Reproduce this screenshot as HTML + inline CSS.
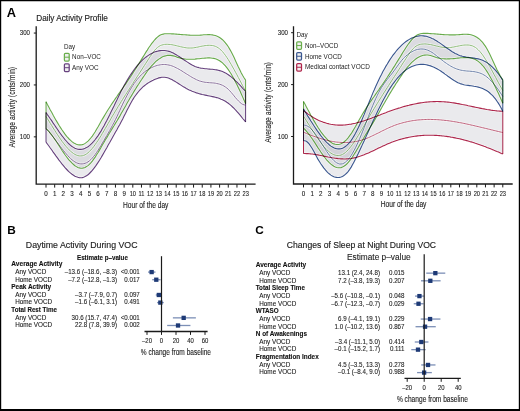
<!DOCTYPE html>
<html><head><meta charset="utf-8"><style>
html,body{margin:0;padding:0;background:#fff;width:520px;height:411px;overflow:hidden;}
svg{display:block;will-change:transform;}
text{font-family:"Liberation Sans",sans-serif;}
</style></head><body>
<svg width="520" height="411" viewBox="0 0 520 411">
<rect x="0" y="0" width="520" height="411" fill="#fff"/>
<text transform="translate(6.70,16.80) scale(1.0700,1)" x="0" y="0" font-size="12.0" font-weight="bold" fill="#000">A</text>
<text transform="translate(36.20,21.30) scale(0.8932,1)" x="0" y="0" font-size="9.2" fill="#1c1c1c" stroke="#1c1c1c" stroke-width="0.15">Daily Activity Profile</text>
<path d="M46.0,101.7 L47.4,104.5 L48.9,107.2 L50.3,110.0 L51.8,112.6 L53.2,115.3 L54.7,117.9 L56.1,120.4 L57.6,122.9 L59.0,125.3 L60.5,127.6 L61.9,129.8 L63.4,131.9 L64.8,133.9 L66.3,135.8 L67.7,137.5 L69.1,139.0 L70.6,140.4 L72.0,141.6 L73.5,142.7 L74.9,143.6 L76.4,144.2 L77.8,144.7 L79.3,144.9 L80.7,144.9 L82.2,144.6 L83.6,144.2 L85.1,143.4 L86.5,142.4 L88.0,141.1 L89.4,139.7 L90.8,138.0 L92.3,136.1 L93.7,134.0 L95.2,131.7 L96.6,129.3 L98.1,126.8 L99.5,124.2 L101.0,121.6 L102.4,119.1 L103.9,116.6 L105.3,114.2 L106.8,111.8 L108.2,109.5 L109.7,107.2 L111.1,105.0 L112.5,102.9 L114.0,100.7 L115.4,98.6 L116.9,96.5 L118.3,94.4 L119.8,92.4 L121.2,90.3 L122.7,88.2 L124.1,86.2 L125.6,84.1 L127.0,82.0 L128.5,79.8 L129.9,77.7 L131.4,75.5 L132.8,73.3 L134.2,71.0 L135.7,68.7 L137.1,66.4 L138.6,64.1 L140.0,61.8 L141.5,59.4 L142.9,57.1 L144.4,54.7 L145.8,52.4 L147.3,50.1 L148.7,47.8 L150.2,45.7 L151.6,43.7 L153.1,41.8 L154.5,40.0 L155.9,38.5 L157.4,37.1 L158.8,36.0 L160.3,35.1 L161.7,34.5 L163.2,34.1 L164.6,33.8 L166.1,33.7 L167.5,33.7 L169.0,33.7 L170.4,33.8 L171.9,33.9 L173.3,33.9 L174.8,34.0 L176.2,34.1 L177.6,34.3 L179.1,34.4 L180.5,34.5 L182.0,34.6 L183.4,34.7 L184.9,34.8 L186.3,34.9 L187.8,35.0 L189.2,35.1 L190.7,35.2 L192.1,35.2 L193.6,35.2 L195.0,35.3 L196.5,35.2 L197.9,35.2 L199.3,35.2 L200.8,35.1 L202.2,35.0 L203.7,34.8 L205.1,34.7 L206.6,34.7 L208.0,34.6 L209.5,34.6 L210.9,34.7 L212.4,34.9 L213.8,35.2 L215.3,35.5 L216.7,36.1 L218.2,36.7 L219.6,37.5 L221.0,38.5 L222.5,39.7 L223.9,41.1 L225.4,42.8 L226.8,44.6 L228.3,46.7 L229.7,49.1 L231.2,51.8 L232.6,54.6 L234.1,57.6 L235.5,60.7 L237.0,63.9 L238.4,67.0 L239.9,70.0 L241.3,72.9 L242.7,75.6 L244.2,78.0 L245.6,80.1 L245.6,103.7 L244.2,100.4 L242.7,97.1 L241.3,93.9 L239.9,90.8 L238.4,87.7 L237.0,84.7 L235.5,81.9 L234.1,79.1 L232.6,76.5 L231.2,74.0 L229.7,71.7 L228.3,69.6 L226.8,67.6 L225.4,65.8 L223.9,64.3 L222.5,62.9 L221.0,61.8 L219.6,60.8 L218.2,60.0 L216.7,59.3 L215.3,58.8 L213.8,58.4 L212.4,58.2 L210.9,58.0 L209.5,57.9 L208.0,57.9 L206.6,58.0 L205.1,58.1 L203.7,58.2 L202.2,58.3 L200.8,58.5 L199.3,58.7 L197.9,58.8 L196.5,58.9 L195.0,59.1 L193.6,59.2 L192.1,59.3 L190.7,59.3 L189.2,59.3 L187.8,59.3 L186.3,59.2 L184.9,59.0 L183.4,58.8 L182.0,58.6 L180.5,58.2 L179.1,57.8 L177.6,57.4 L176.2,56.8 L174.8,56.3 L173.3,55.9 L171.9,55.6 L170.4,55.4 L169.0,55.3 L167.5,55.4 L166.1,55.7 L164.6,56.1 L163.2,56.6 L161.7,57.3 L160.3,58.2 L158.8,59.1 L157.4,60.2 L155.9,61.4 L154.5,62.8 L153.1,64.3 L151.6,65.9 L150.2,67.6 L148.7,69.4 L147.3,71.3 L145.8,73.4 L144.4,75.5 L142.9,77.6 L141.5,79.8 L140.0,82.0 L138.6,84.2 L137.1,86.4 L135.7,88.7 L134.2,91.1 L132.8,93.5 L131.4,95.9 L129.9,98.3 L128.5,100.8 L127.0,103.3 L125.6,105.9 L124.1,108.5 L122.7,111.0 L121.2,113.6 L119.8,116.1 L118.3,118.6 L116.9,121.0 L115.4,123.4 L114.0,125.8 L112.5,128.1 L111.1,130.5 L109.7,132.8 L108.2,135.2 L106.8,137.6 L105.3,140.0 L103.9,142.5 L102.4,145.0 L101.0,147.6 L99.5,150.1 L98.1,152.5 L96.6,154.8 L95.2,157.1 L93.7,159.2 L92.3,161.1 L90.8,162.8 L89.4,164.3 L88.0,165.6 L86.5,166.6 L85.1,167.4 L83.6,167.9 L82.2,168.2 L80.7,168.2 L79.3,167.9 L77.8,167.4 L76.4,166.6 L74.9,165.7 L73.5,164.5 L72.0,163.2 L70.6,161.7 L69.1,160.1 L67.7,158.3 L66.3,156.5 L64.8,154.5 L63.4,152.4 L61.9,150.2 L60.5,148.0 L59.0,145.7 L57.6,143.5 L56.1,141.3 L54.7,139.1 L53.2,137.0 L51.8,135.1 L50.3,133.2 L48.9,131.4 L47.4,129.9 L46.0,128.5 Z" fill="rgba(185,185,195,0.30)" stroke="none"/>
<path d="M46.0,112.5 L47.4,114.6 L48.9,116.7 L50.3,118.8 L51.8,120.9 L53.2,123.1 L54.7,125.3 L56.1,127.4 L57.6,129.5 L59.0,131.6 L60.5,133.7 L61.9,135.6 L63.4,137.5 L64.8,139.3 L66.3,141.0 L67.7,142.6 L69.1,144.0 L70.6,145.3 L72.0,146.5 L73.5,147.4 L74.9,148.2 L76.4,148.8 L77.8,149.2 L79.3,149.4 L80.7,149.4 L82.2,149.3 L83.6,148.9 L85.1,148.3 L86.5,147.6 L88.0,146.7 L89.4,145.6 L90.8,144.3 L92.3,142.9 L93.7,141.3 L95.2,139.5 L96.6,137.6 L98.1,135.6 L99.5,133.4 L101.0,131.1 L102.4,128.6 L103.9,126.0 L105.3,123.3 L106.8,120.5 L108.2,117.7 L109.7,114.8 L111.1,111.8 L112.5,108.9 L114.0,105.9 L115.4,102.9 L116.9,99.9 L118.3,96.9 L119.8,94.0 L121.2,91.1 L122.7,88.3 L124.1,85.6 L125.6,83.0 L127.0,80.5 L128.5,78.1 L129.9,75.8 L131.4,73.6 L132.8,71.5 L134.2,69.5 L135.7,67.6 L137.1,65.8 L138.6,64.2 L140.0,62.6 L141.5,61.1 L142.9,59.7 L144.4,58.4 L145.8,57.2 L147.3,56.1 L148.7,55.1 L150.2,54.2 L151.6,53.4 L153.1,52.7 L154.5,52.1 L155.9,51.6 L157.4,51.2 L158.8,50.9 L160.3,50.6 L161.7,50.5 L163.2,50.5 L164.6,50.5 L166.1,50.7 L167.5,51.0 L169.0,51.4 L170.4,51.8 L171.9,52.4 L173.3,53.1 L174.8,53.9 L176.2,54.7 L177.6,55.6 L179.1,56.5 L180.5,57.5 L182.0,58.5 L183.4,59.5 L184.9,60.5 L186.3,61.4 L187.8,62.4 L189.2,63.3 L190.7,64.2 L192.1,65.0 L193.6,65.7 L195.0,66.4 L196.5,66.9 L197.9,67.4 L199.3,67.8 L200.8,68.1 L202.2,68.3 L203.7,68.5 L205.1,68.7 L206.6,68.8 L208.0,69.0 L209.5,69.1 L210.9,69.2 L212.4,69.3 L213.8,69.5 L215.3,69.7 L216.7,69.9 L218.2,70.2 L219.6,70.6 L221.0,71.0 L222.5,71.6 L223.9,72.2 L225.4,72.9 L226.8,73.8 L228.3,74.7 L229.7,75.8 L231.2,76.9 L232.6,78.1 L234.1,79.4 L235.5,80.8 L237.0,82.2 L238.4,83.7 L239.9,85.2 L241.3,86.7 L242.7,88.3 L244.2,89.9 L245.6,91.5 L245.6,122.0 L244.2,120.2 L242.7,118.5 L241.3,116.7 L239.9,114.9 L238.4,113.2 L237.0,111.6 L235.5,110.0 L234.1,108.4 L232.6,107.0 L231.2,105.6 L229.7,104.4 L228.3,103.3 L226.8,102.3 L225.4,101.3 L223.9,100.5 L222.5,99.8 L221.0,99.2 L219.6,98.6 L218.2,98.1 L216.7,97.6 L215.3,97.2 L213.8,96.9 L212.4,96.6 L210.9,96.3 L209.5,96.0 L208.0,95.7 L206.6,95.4 L205.1,95.1 L203.7,94.8 L202.2,94.5 L200.8,94.1 L199.3,93.7 L197.9,93.3 L196.5,92.9 L195.0,92.3 L193.6,91.8 L192.1,91.2 L190.7,90.6 L189.2,89.9 L187.8,89.2 L186.3,88.4 L184.9,87.6 L183.4,86.8 L182.0,85.9 L180.5,84.9 L179.1,84.0 L177.6,83.0 L176.2,82.1 L174.8,81.2 L173.3,80.4 L171.9,79.6 L170.4,78.9 L169.0,78.3 L167.5,77.8 L166.1,77.5 L164.6,77.3 L163.2,77.2 L161.7,77.3 L160.3,77.6 L158.8,77.9 L157.4,78.4 L155.9,78.9 L154.5,79.5 L153.1,80.2 L151.6,80.9 L150.2,81.7 L148.7,82.6 L147.3,83.5 L145.8,84.6 L144.4,85.7 L142.9,86.9 L141.5,88.3 L140.0,89.8 L138.6,91.5 L137.1,93.3 L135.7,95.2 L134.2,97.3 L132.8,99.6 L131.4,102.1 L129.9,104.7 L128.5,107.5 L127.0,110.3 L125.6,113.2 L124.1,116.1 L122.7,119.0 L121.2,121.7 L119.8,124.4 L118.3,127.1 L116.9,129.7 L115.4,132.2 L114.0,134.8 L112.5,137.4 L111.1,139.9 L109.7,142.5 L108.2,145.1 L106.8,147.7 L105.3,150.3 L103.9,152.8 L102.4,155.4 L101.0,157.8 L99.5,160.2 L98.1,162.4 L96.6,164.6 L95.2,166.7 L93.7,168.6 L92.3,170.4 L90.8,172.0 L89.4,173.5 L88.0,174.7 L86.5,175.8 L85.1,176.6 L83.6,177.2 L82.2,177.6 L80.7,177.7 L79.3,177.6 L77.8,177.3 L76.4,176.8 L74.9,176.2 L73.5,175.3 L72.0,174.3 L70.6,173.2 L69.1,171.9 L67.7,170.5 L66.3,169.0 L64.8,167.4 L63.4,165.7 L61.9,163.9 L60.5,162.0 L59.0,160.1 L57.6,158.1 L56.1,156.1 L54.7,154.1 L53.2,152.1 L51.8,150.0 L50.3,148.0 L48.9,146.0 L47.4,144.0 L46.0,142.1 Z" fill="rgba(185,185,195,0.30)" stroke="none"/>
<path d="M46.0,101.7 L47.4,104.5 L48.9,107.2 L50.3,110.0 L51.8,112.6 L53.2,115.3 L54.7,117.9 L56.1,120.4 L57.6,122.9 L59.0,125.3 L60.5,127.6 L61.9,129.8 L63.4,131.9 L64.8,133.9 L66.3,135.8 L67.7,137.5 L69.1,139.0 L70.6,140.4 L72.0,141.6 L73.5,142.7 L74.9,143.6 L76.4,144.2 L77.8,144.7 L79.3,144.9 L80.7,144.9 L82.2,144.6 L83.6,144.2 L85.1,143.4 L86.5,142.4 L88.0,141.1 L89.4,139.7 L90.8,138.0 L92.3,136.1 L93.7,134.0 L95.2,131.7 L96.6,129.3 L98.1,126.8 L99.5,124.2 L101.0,121.6 L102.4,119.1 L103.9,116.6 L105.3,114.2 L106.8,111.8 L108.2,109.5 L109.7,107.2 L111.1,105.0 L112.5,102.9 L114.0,100.7 L115.4,98.6 L116.9,96.5 L118.3,94.4 L119.8,92.4 L121.2,90.3 L122.7,88.2 L124.1,86.2 L125.6,84.1 L127.0,82.0 L128.5,79.8 L129.9,77.7 L131.4,75.5 L132.8,73.3 L134.2,71.0 L135.7,68.7 L137.1,66.4 L138.6,64.1 L140.0,61.8 L141.5,59.4 L142.9,57.1 L144.4,54.7 L145.8,52.4 L147.3,50.1 L148.7,47.8 L150.2,45.7 L151.6,43.7 L153.1,41.8 L154.5,40.0 L155.9,38.5 L157.4,37.1 L158.8,36.0 L160.3,35.1 L161.7,34.5 L163.2,34.1 L164.6,33.8 L166.1,33.7 L167.5,33.7 L169.0,33.7 L170.4,33.8 L171.9,33.9 L173.3,33.9 L174.8,34.0 L176.2,34.1 L177.6,34.3 L179.1,34.4 L180.5,34.5 L182.0,34.6 L183.4,34.7 L184.9,34.8 L186.3,34.9 L187.8,35.0 L189.2,35.1 L190.7,35.2 L192.1,35.2 L193.6,35.2 L195.0,35.3 L196.5,35.2 L197.9,35.2 L199.3,35.2 L200.8,35.1 L202.2,35.0 L203.7,34.8 L205.1,34.7 L206.6,34.7 L208.0,34.6 L209.5,34.6 L210.9,34.7 L212.4,34.9 L213.8,35.2 L215.3,35.5 L216.7,36.1 L218.2,36.7 L219.6,37.5 L221.0,38.5 L222.5,39.7 L223.9,41.1 L225.4,42.8 L226.8,44.6 L228.3,46.7 L229.7,49.1 L231.2,51.8 L232.6,54.6 L234.1,57.6 L235.5,60.7 L237.0,63.9 L238.4,67.0 L239.9,70.0 L241.3,72.9 L242.7,75.6 L244.2,78.0 L245.6,80.1" stroke="#fff" stroke-opacity="0.55" stroke-width="2.6" fill="none"/>
<path d="M46.0,116.4 L47.4,118.7 L48.9,121.0 L50.3,123.4 L51.8,125.7 L53.2,128.0 L54.7,130.3 L56.1,132.6 L57.6,134.8 L59.0,137.0 L60.5,139.1 L61.9,141.2 L63.4,143.1 L64.8,145.0 L66.3,146.7 L67.7,148.3 L69.1,149.9 L70.6,151.2 L72.0,152.4 L73.5,153.5 L74.9,154.4 L76.4,155.1 L77.8,155.6 L79.3,155.9 L80.7,155.9 L82.2,155.8 L83.6,155.4 L85.1,154.8 L86.5,153.9 L88.0,152.8 L89.4,151.5 L90.8,150.0 L92.3,148.4 L93.7,146.6 L95.2,144.6 L96.6,142.5 L98.1,140.4 L99.5,138.1 L101.0,135.8 L102.4,133.3 L103.9,130.9 L105.3,128.4 L106.8,125.9 L108.2,123.4 L109.7,120.9 L111.1,118.4 L112.5,115.9 L114.0,113.5 L115.4,111.1 L116.9,108.7 L118.3,106.3 L119.8,104.0 L121.2,101.6 L122.7,99.3 L124.1,97.0 L125.6,94.7 L127.0,92.5 L128.5,90.2 L129.9,88.0 L131.4,85.7 L132.8,83.5 L134.2,81.2 L135.7,79.0 L137.1,76.8 L138.6,74.5 L140.0,72.3 L141.5,70.0 L142.9,67.8 L144.4,65.5 L145.8,63.3 L147.3,61.0 L148.7,58.8 L150.2,56.6 L151.6,54.4 L153.1,52.4 L154.5,50.5 L155.9,48.9 L157.4,47.5 L158.8,46.5 L160.3,45.6 L161.7,45.1 L163.2,44.7 L164.6,44.4 L166.1,44.3 L167.5,44.3 L169.0,44.4 L170.4,44.5 L171.9,44.7 L173.3,45.0 L174.8,45.3 L176.2,45.6 L177.6,46.0 L179.1,46.3 L180.5,46.7 L182.0,47.0 L183.4,47.3 L184.9,47.6 L186.3,47.8 L187.8,48.0 L189.2,48.0 L190.7,48.0 L192.1,48.0 L193.6,47.8 L195.0,47.6 L196.5,47.3 L197.9,47.1 L199.3,46.7 L200.8,46.4 L202.2,46.1 L203.7,45.9 L205.1,45.6 L206.6,45.5 L208.0,45.3 L209.5,45.3 L210.9,45.4 L212.4,45.5 L213.8,45.8 L215.3,46.3 L216.7,46.9 L218.2,47.8 L219.6,48.8 L221.0,50.1 L222.5,51.6 L223.9,53.4 L225.4,55.3 L226.8,57.4 L228.3,59.6 L229.7,62.0 L231.2,64.4 L232.6,67.0 L234.1,69.6 L235.5,72.2 L237.0,74.9 L238.4,77.6 L239.9,80.4 L241.3,83.1 L242.7,85.8 L244.2,88.4 L245.6,91.0" stroke="#fff" stroke-opacity="0.55" stroke-width="2.6" fill="none"/>
<path d="M46.0,128.5 L47.4,129.9 L48.9,131.4 L50.3,133.2 L51.8,135.1 L53.2,137.0 L54.7,139.1 L56.1,141.3 L57.6,143.5 L59.0,145.7 L60.5,148.0 L61.9,150.2 L63.4,152.4 L64.8,154.5 L66.3,156.5 L67.7,158.3 L69.1,160.1 L70.6,161.7 L72.0,163.2 L73.5,164.5 L74.9,165.7 L76.4,166.6 L77.8,167.4 L79.3,167.9 L80.7,168.2 L82.2,168.2 L83.6,167.9 L85.1,167.4 L86.5,166.6 L88.0,165.6 L89.4,164.3 L90.8,162.8 L92.3,161.1 L93.7,159.2 L95.2,157.1 L96.6,154.8 L98.1,152.5 L99.5,150.1 L101.0,147.6 L102.4,145.0 L103.9,142.5 L105.3,140.0 L106.8,137.6 L108.2,135.2 L109.7,132.8 L111.1,130.5 L112.5,128.1 L114.0,125.8 L115.4,123.4 L116.9,121.0 L118.3,118.6 L119.8,116.1 L121.2,113.6 L122.7,111.0 L124.1,108.5 L125.6,105.9 L127.0,103.3 L128.5,100.8 L129.9,98.3 L131.4,95.9 L132.8,93.5 L134.2,91.1 L135.7,88.7 L137.1,86.4 L138.6,84.2 L140.0,82.0 L141.5,79.8 L142.9,77.6 L144.4,75.5 L145.8,73.4 L147.3,71.3 L148.7,69.4 L150.2,67.6 L151.6,65.9 L153.1,64.3 L154.5,62.8 L155.9,61.4 L157.4,60.2 L158.8,59.1 L160.3,58.2 L161.7,57.3 L163.2,56.6 L164.6,56.1 L166.1,55.7 L167.5,55.4 L169.0,55.3 L170.4,55.4 L171.9,55.6 L173.3,55.9 L174.8,56.3 L176.2,56.8 L177.6,57.4 L179.1,57.8 L180.5,58.2 L182.0,58.6 L183.4,58.8 L184.9,59.0 L186.3,59.2 L187.8,59.3 L189.2,59.3 L190.7,59.3 L192.1,59.3 L193.6,59.2 L195.0,59.1 L196.5,58.9 L197.9,58.8 L199.3,58.7 L200.8,58.5 L202.2,58.3 L203.7,58.2 L205.1,58.1 L206.6,58.0 L208.0,57.9 L209.5,57.9 L210.9,58.0 L212.4,58.2 L213.8,58.4 L215.3,58.8 L216.7,59.3 L218.2,60.0 L219.6,60.8 L221.0,61.8 L222.5,62.9 L223.9,64.3 L225.4,65.8 L226.8,67.6 L228.3,69.6 L229.7,71.7 L231.2,74.0 L232.6,76.5 L234.1,79.1 L235.5,81.9 L237.0,84.7 L238.4,87.7 L239.9,90.8 L241.3,93.9 L242.7,97.1 L244.2,100.4 L245.6,103.7" stroke="#fff" stroke-opacity="0.55" stroke-width="2.6" fill="none"/>
<path d="M46.0,112.5 L47.4,114.6 L48.9,116.7 L50.3,118.8 L51.8,120.9 L53.2,123.1 L54.7,125.3 L56.1,127.4 L57.6,129.5 L59.0,131.6 L60.5,133.7 L61.9,135.6 L63.4,137.5 L64.8,139.3 L66.3,141.0 L67.7,142.6 L69.1,144.0 L70.6,145.3 L72.0,146.5 L73.5,147.4 L74.9,148.2 L76.4,148.8 L77.8,149.2 L79.3,149.4 L80.7,149.4 L82.2,149.3 L83.6,148.9 L85.1,148.3 L86.5,147.6 L88.0,146.7 L89.4,145.6 L90.8,144.3 L92.3,142.9 L93.7,141.3 L95.2,139.5 L96.6,137.6 L98.1,135.6 L99.5,133.4 L101.0,131.1 L102.4,128.6 L103.9,126.0 L105.3,123.3 L106.8,120.5 L108.2,117.7 L109.7,114.8 L111.1,111.8 L112.5,108.9 L114.0,105.9 L115.4,102.9 L116.9,99.9 L118.3,96.9 L119.8,94.0 L121.2,91.1 L122.7,88.3 L124.1,85.6 L125.6,83.0 L127.0,80.5 L128.5,78.1 L129.9,75.8 L131.4,73.6 L132.8,71.5 L134.2,69.5 L135.7,67.6 L137.1,65.8 L138.6,64.2 L140.0,62.6 L141.5,61.1 L142.9,59.7 L144.4,58.4 L145.8,57.2 L147.3,56.1 L148.7,55.1 L150.2,54.2 L151.6,53.4 L153.1,52.7 L154.5,52.1 L155.9,51.6 L157.4,51.2 L158.8,50.9 L160.3,50.6 L161.7,50.5 L163.2,50.5 L164.6,50.5 L166.1,50.7 L167.5,51.0 L169.0,51.4 L170.4,51.8 L171.9,52.4 L173.3,53.1 L174.8,53.9 L176.2,54.7 L177.6,55.6 L179.1,56.5 L180.5,57.5 L182.0,58.5 L183.4,59.5 L184.9,60.5 L186.3,61.4 L187.8,62.4 L189.2,63.3 L190.7,64.2 L192.1,65.0 L193.6,65.7 L195.0,66.4 L196.5,66.9 L197.9,67.4 L199.3,67.8 L200.8,68.1 L202.2,68.3 L203.7,68.5 L205.1,68.7 L206.6,68.8 L208.0,69.0 L209.5,69.1 L210.9,69.2 L212.4,69.3 L213.8,69.5 L215.3,69.7 L216.7,69.9 L218.2,70.2 L219.6,70.6 L221.0,71.0 L222.5,71.6 L223.9,72.2 L225.4,72.9 L226.8,73.8 L228.3,74.7 L229.7,75.8 L231.2,76.9 L232.6,78.1 L234.1,79.4 L235.5,80.8 L237.0,82.2 L238.4,83.7 L239.9,85.2 L241.3,86.7 L242.7,88.3 L244.2,89.9 L245.6,91.5" stroke="#fff" stroke-opacity="0.55" stroke-width="2.6" fill="none"/>
<path d="M46.0,128.6 L47.4,130.1 L48.9,131.7 L50.3,133.5 L51.8,135.2 L53.2,137.1 L54.7,139.0 L56.1,140.9 L57.6,142.8 L59.0,144.7 L60.5,146.7 L61.9,148.5 L63.4,150.4 L64.8,152.2 L66.3,153.9 L67.7,155.5 L69.1,157.1 L70.6,158.5 L72.0,159.8 L73.5,160.9 L74.9,161.9 L76.4,162.7 L77.8,163.3 L79.3,163.7 L80.7,163.9 L82.2,163.9 L83.6,163.7 L85.1,163.3 L86.5,162.7 L88.0,161.9 L89.4,160.8 L90.8,159.6 L92.3,158.1 L93.7,156.4 L95.2,154.5 L96.6,152.4 L98.1,150.2 L99.5,147.9 L101.0,145.5 L102.4,143.0 L103.9,140.5 L105.3,138.0 L106.8,135.5 L108.2,133.1 L109.7,130.5 L111.1,127.9 L112.5,125.3 L114.0,122.5 L115.4,119.7 L116.9,116.7 L118.3,113.6 L119.8,110.4 L121.2,107.3 L122.7,104.1 L124.1,101.1 L125.6,98.2 L127.0,95.4 L128.5,92.7 L129.9,90.2 L131.4,87.8 L132.8,85.5 L134.2,83.4 L135.7,81.4 L137.1,79.5 L138.6,77.8 L140.0,76.2 L141.5,74.7 L142.9,73.3 L144.4,72.1 L145.8,71.0 L147.3,70.0 L148.7,69.1 L150.2,68.3 L151.6,67.6 L153.1,66.9 L154.5,66.4 L155.9,65.8 L157.4,65.4 L158.8,65.1 L160.3,64.8 L161.7,64.6 L163.2,64.5 L164.6,64.5 L166.1,64.6 L167.5,64.8 L169.0,65.1 L170.4,65.4 L171.9,65.9 L173.3,66.4 L174.8,67.1 L176.2,67.8 L177.6,68.5 L179.1,69.3 L180.5,70.2 L182.0,71.0 L183.4,72.0 L184.9,72.9 L186.3,73.8 L187.8,74.7 L189.2,75.6 L190.7,76.5 L192.1,77.4 L193.6,78.2 L195.0,78.9 L196.5,79.7 L197.9,80.3 L199.3,80.9 L200.8,81.3 L202.2,81.7 L203.7,82.0 L205.1,82.3 L206.6,82.4 L208.0,82.6 L209.5,82.7 L210.9,82.8 L212.4,82.9 L213.8,83.0 L215.3,83.2 L216.7,83.5 L218.2,83.8 L219.6,84.2 L221.0,84.7 L222.5,85.3 L223.9,86.0 L225.4,87.0 L226.8,88.0 L228.3,89.3 L229.7,90.8 L231.2,92.4 L232.6,94.1 L234.1,95.9 L235.5,97.7 L237.0,99.4 L238.4,100.9 L239.9,102.3 L241.3,103.5 L242.7,104.4 L244.2,104.9 L245.6,105.0" stroke="#fff" stroke-opacity="0.55" stroke-width="2.6" fill="none"/>
<path d="M46.0,142.1 L47.4,144.0 L48.9,146.0 L50.3,148.0 L51.8,150.0 L53.2,152.1 L54.7,154.1 L56.1,156.1 L57.6,158.1 L59.0,160.1 L60.5,162.0 L61.9,163.9 L63.4,165.7 L64.8,167.4 L66.3,169.0 L67.7,170.5 L69.1,171.9 L70.6,173.2 L72.0,174.3 L73.5,175.3 L74.9,176.2 L76.4,176.8 L77.8,177.3 L79.3,177.6 L80.7,177.7 L82.2,177.6 L83.6,177.2 L85.1,176.6 L86.5,175.8 L88.0,174.7 L89.4,173.5 L90.8,172.0 L92.3,170.4 L93.7,168.6 L95.2,166.7 L96.6,164.6 L98.1,162.4 L99.5,160.2 L101.0,157.8 L102.4,155.4 L103.9,152.8 L105.3,150.3 L106.8,147.7 L108.2,145.1 L109.7,142.5 L111.1,139.9 L112.5,137.4 L114.0,134.8 L115.4,132.2 L116.9,129.7 L118.3,127.1 L119.8,124.4 L121.2,121.7 L122.7,119.0 L124.1,116.1 L125.6,113.2 L127.0,110.3 L128.5,107.5 L129.9,104.7 L131.4,102.1 L132.8,99.6 L134.2,97.3 L135.7,95.2 L137.1,93.3 L138.6,91.5 L140.0,89.8 L141.5,88.3 L142.9,86.9 L144.4,85.7 L145.8,84.6 L147.3,83.5 L148.7,82.6 L150.2,81.7 L151.6,80.9 L153.1,80.2 L154.5,79.5 L155.9,78.9 L157.4,78.4 L158.8,77.9 L160.3,77.6 L161.7,77.3 L163.2,77.2 L164.6,77.3 L166.1,77.5 L167.5,77.8 L169.0,78.3 L170.4,78.9 L171.9,79.6 L173.3,80.4 L174.8,81.2 L176.2,82.1 L177.6,83.0 L179.1,84.0 L180.5,84.9 L182.0,85.9 L183.4,86.8 L184.9,87.6 L186.3,88.4 L187.8,89.2 L189.2,89.9 L190.7,90.6 L192.1,91.2 L193.6,91.8 L195.0,92.3 L196.5,92.9 L197.9,93.3 L199.3,93.7 L200.8,94.1 L202.2,94.5 L203.7,94.8 L205.1,95.1 L206.6,95.4 L208.0,95.7 L209.5,96.0 L210.9,96.3 L212.4,96.6 L213.8,96.9 L215.3,97.2 L216.7,97.6 L218.2,98.1 L219.6,98.6 L221.0,99.2 L222.5,99.8 L223.9,100.5 L225.4,101.3 L226.8,102.3 L228.3,103.3 L229.7,104.4 L231.2,105.6 L232.6,107.0 L234.1,108.4 L235.5,110.0 L237.0,111.6 L238.4,113.2 L239.9,114.9 L241.3,116.7 L242.7,118.5 L244.2,120.2 L245.6,122.0" stroke="#fff" stroke-opacity="0.55" stroke-width="2.6" fill="none"/>
<path d="M46.0,101.7 L46.0,128.5 M245.6,80.1 L245.6,103.7" stroke="#6aae4c" stroke-width="1" fill="none" style="mix-blend-mode:multiply"/>
<path d="M46.0,101.7 L47.4,104.5 L48.9,107.2 L50.3,110.0 L51.8,112.6 L53.2,115.3 L54.7,117.9 L56.1,120.4 L57.6,122.9 L59.0,125.3 L60.5,127.6 L61.9,129.8 L63.4,131.9 L64.8,133.9 L66.3,135.8 L67.7,137.5 L69.1,139.0 L70.6,140.4 L72.0,141.6 L73.5,142.7 L74.9,143.6 L76.4,144.2 L77.8,144.7 L79.3,144.9 L80.7,144.9 L82.2,144.6 L83.6,144.2 L85.1,143.4 L86.5,142.4 L88.0,141.1 L89.4,139.7 L90.8,138.0 L92.3,136.1 L93.7,134.0 L95.2,131.7 L96.6,129.3 L98.1,126.8 L99.5,124.2 L101.0,121.6 L102.4,119.1 L103.9,116.6 L105.3,114.2 L106.8,111.8 L108.2,109.5 L109.7,107.2 L111.1,105.0 L112.5,102.9 L114.0,100.7 L115.4,98.6 L116.9,96.5 L118.3,94.4 L119.8,92.4 L121.2,90.3 L122.7,88.2 L124.1,86.2 L125.6,84.1 L127.0,82.0 L128.5,79.8 L129.9,77.7 L131.4,75.5 L132.8,73.3 L134.2,71.0 L135.7,68.7 L137.1,66.4 L138.6,64.1 L140.0,61.8 L141.5,59.4 L142.9,57.1 L144.4,54.7 L145.8,52.4 L147.3,50.1 L148.7,47.8 L150.2,45.7 L151.6,43.7 L153.1,41.8 L154.5,40.0 L155.9,38.5 L157.4,37.1 L158.8,36.0 L160.3,35.1 L161.7,34.5 L163.2,34.1 L164.6,33.8 L166.1,33.7 L167.5,33.7 L169.0,33.7 L170.4,33.8 L171.9,33.9 L173.3,33.9 L174.8,34.0 L176.2,34.1 L177.6,34.3 L179.1,34.4 L180.5,34.5 L182.0,34.6 L183.4,34.7 L184.9,34.8 L186.3,34.9 L187.8,35.0 L189.2,35.1 L190.7,35.2 L192.1,35.2 L193.6,35.2 L195.0,35.3 L196.5,35.2 L197.9,35.2 L199.3,35.2 L200.8,35.1 L202.2,35.0 L203.7,34.8 L205.1,34.7 L206.6,34.7 L208.0,34.6 L209.5,34.6 L210.9,34.7 L212.4,34.9 L213.8,35.2 L215.3,35.5 L216.7,36.1 L218.2,36.7 L219.6,37.5 L221.0,38.5 L222.5,39.7 L223.9,41.1 L225.4,42.8 L226.8,44.6 L228.3,46.7 L229.7,49.1 L231.2,51.8 L232.6,54.6 L234.1,57.6 L235.5,60.7 L237.0,63.9 L238.4,67.0 L239.9,70.0 L241.3,72.9 L242.7,75.6 L244.2,78.0 L245.6,80.1" stroke="#6aae4c" stroke-width="1.1" fill="none" style="mix-blend-mode:multiply"/>
<path d="M46.0,128.5 L47.4,129.9 L48.9,131.4 L50.3,133.2 L51.8,135.1 L53.2,137.0 L54.7,139.1 L56.1,141.3 L57.6,143.5 L59.0,145.7 L60.5,148.0 L61.9,150.2 L63.4,152.4 L64.8,154.5 L66.3,156.5 L67.7,158.3 L69.1,160.1 L70.6,161.7 L72.0,163.2 L73.5,164.5 L74.9,165.7 L76.4,166.6 L77.8,167.4 L79.3,167.9 L80.7,168.2 L82.2,168.2 L83.6,167.9 L85.1,167.4 L86.5,166.6 L88.0,165.6 L89.4,164.3 L90.8,162.8 L92.3,161.1 L93.7,159.2 L95.2,157.1 L96.6,154.8 L98.1,152.5 L99.5,150.1 L101.0,147.6 L102.4,145.0 L103.9,142.5 L105.3,140.0 L106.8,137.6 L108.2,135.2 L109.7,132.8 L111.1,130.5 L112.5,128.1 L114.0,125.8 L115.4,123.4 L116.9,121.0 L118.3,118.6 L119.8,116.1 L121.2,113.6 L122.7,111.0 L124.1,108.5 L125.6,105.9 L127.0,103.3 L128.5,100.8 L129.9,98.3 L131.4,95.9 L132.8,93.5 L134.2,91.1 L135.7,88.7 L137.1,86.4 L138.6,84.2 L140.0,82.0 L141.5,79.8 L142.9,77.6 L144.4,75.5 L145.8,73.4 L147.3,71.3 L148.7,69.4 L150.2,67.6 L151.6,65.9 L153.1,64.3 L154.5,62.8 L155.9,61.4 L157.4,60.2 L158.8,59.1 L160.3,58.2 L161.7,57.3 L163.2,56.6 L164.6,56.1 L166.1,55.7 L167.5,55.4 L169.0,55.3 L170.4,55.4 L171.9,55.6 L173.3,55.9 L174.8,56.3 L176.2,56.8 L177.6,57.4 L179.1,57.8 L180.5,58.2 L182.0,58.6 L183.4,58.8 L184.9,59.0 L186.3,59.2 L187.8,59.3 L189.2,59.3 L190.7,59.3 L192.1,59.3 L193.6,59.2 L195.0,59.1 L196.5,58.9 L197.9,58.8 L199.3,58.7 L200.8,58.5 L202.2,58.3 L203.7,58.2 L205.1,58.1 L206.6,58.0 L208.0,57.9 L209.5,57.9 L210.9,58.0 L212.4,58.2 L213.8,58.4 L215.3,58.8 L216.7,59.3 L218.2,60.0 L219.6,60.8 L221.0,61.8 L222.5,62.9 L223.9,64.3 L225.4,65.8 L226.8,67.6 L228.3,69.6 L229.7,71.7 L231.2,74.0 L232.6,76.5 L234.1,79.1 L235.5,81.9 L237.0,84.7 L238.4,87.7 L239.9,90.8 L241.3,93.9 L242.7,97.1 L244.2,100.4 L245.6,103.7" stroke="#6aae4c" stroke-width="1.1" fill="none" style="mix-blend-mode:multiply"/>
<path d="M46.0,116.4 L47.4,118.7 L48.9,121.0 L50.3,123.4 L51.8,125.7 L53.2,128.0 L54.7,130.3 L56.1,132.6 L57.6,134.8 L59.0,137.0 L60.5,139.1 L61.9,141.2 L63.4,143.1 L64.8,145.0 L66.3,146.7 L67.7,148.3 L69.1,149.9 L70.6,151.2 L72.0,152.4 L73.5,153.5 L74.9,154.4 L76.4,155.1 L77.8,155.6 L79.3,155.9 L80.7,155.9 L82.2,155.8 L83.6,155.4 L85.1,154.8 L86.5,153.9 L88.0,152.8 L89.4,151.5 L90.8,150.0 L92.3,148.4 L93.7,146.6 L95.2,144.6 L96.6,142.5 L98.1,140.4 L99.5,138.1 L101.0,135.8 L102.4,133.3 L103.9,130.9 L105.3,128.4 L106.8,125.9 L108.2,123.4 L109.7,120.9 L111.1,118.4 L112.5,115.9 L114.0,113.5 L115.4,111.1 L116.9,108.7 L118.3,106.3 L119.8,104.0 L121.2,101.6 L122.7,99.3 L124.1,97.0 L125.6,94.7 L127.0,92.5 L128.5,90.2 L129.9,88.0 L131.4,85.7 L132.8,83.5 L134.2,81.2 L135.7,79.0 L137.1,76.8 L138.6,74.5 L140.0,72.3 L141.5,70.0 L142.9,67.8 L144.4,65.5 L145.8,63.3 L147.3,61.0 L148.7,58.8 L150.2,56.6 L151.6,54.4 L153.1,52.4 L154.5,50.5 L155.9,48.9 L157.4,47.5 L158.8,46.5 L160.3,45.6 L161.7,45.1 L163.2,44.7 L164.6,44.4 L166.1,44.3 L167.5,44.3 L169.0,44.4 L170.4,44.5 L171.9,44.7 L173.3,45.0 L174.8,45.3 L176.2,45.6 L177.6,46.0 L179.1,46.3 L180.5,46.7 L182.0,47.0 L183.4,47.3 L184.9,47.6 L186.3,47.8 L187.8,48.0 L189.2,48.0 L190.7,48.0 L192.1,48.0 L193.6,47.8 L195.0,47.6 L196.5,47.3 L197.9,47.1 L199.3,46.7 L200.8,46.4 L202.2,46.1 L203.7,45.9 L205.1,45.6 L206.6,45.5 L208.0,45.3 L209.5,45.3 L210.9,45.4 L212.4,45.5 L213.8,45.8 L215.3,46.3 L216.7,46.9 L218.2,47.8 L219.6,48.8 L221.0,50.1 L222.5,51.6 L223.9,53.4 L225.4,55.3 L226.8,57.4 L228.3,59.6 L229.7,62.0 L231.2,64.4 L232.6,67.0 L234.1,69.6 L235.5,72.2 L237.0,74.9 L238.4,77.6 L239.9,80.4 L241.3,83.1 L242.7,85.8 L244.2,88.4 L245.6,91.0" stroke="#6aae4c" stroke-width="0.95" fill="none" opacity="0.75" style="mix-blend-mode:multiply"/>
<path d="M46.0,112.5 L46.0,142.1 M245.6,91.5 L245.6,122.0" stroke="#67427f" stroke-width="1" fill="none" style="mix-blend-mode:multiply"/>
<path d="M46.0,112.5 L47.4,114.6 L48.9,116.7 L50.3,118.8 L51.8,120.9 L53.2,123.1 L54.7,125.3 L56.1,127.4 L57.6,129.5 L59.0,131.6 L60.5,133.7 L61.9,135.6 L63.4,137.5 L64.8,139.3 L66.3,141.0 L67.7,142.6 L69.1,144.0 L70.6,145.3 L72.0,146.5 L73.5,147.4 L74.9,148.2 L76.4,148.8 L77.8,149.2 L79.3,149.4 L80.7,149.4 L82.2,149.3 L83.6,148.9 L85.1,148.3 L86.5,147.6 L88.0,146.7 L89.4,145.6 L90.8,144.3 L92.3,142.9 L93.7,141.3 L95.2,139.5 L96.6,137.6 L98.1,135.6 L99.5,133.4 L101.0,131.1 L102.4,128.6 L103.9,126.0 L105.3,123.3 L106.8,120.5 L108.2,117.7 L109.7,114.8 L111.1,111.8 L112.5,108.9 L114.0,105.9 L115.4,102.9 L116.9,99.9 L118.3,96.9 L119.8,94.0 L121.2,91.1 L122.7,88.3 L124.1,85.6 L125.6,83.0 L127.0,80.5 L128.5,78.1 L129.9,75.8 L131.4,73.6 L132.8,71.5 L134.2,69.5 L135.7,67.6 L137.1,65.8 L138.6,64.2 L140.0,62.6 L141.5,61.1 L142.9,59.7 L144.4,58.4 L145.8,57.2 L147.3,56.1 L148.7,55.1 L150.2,54.2 L151.6,53.4 L153.1,52.7 L154.5,52.1 L155.9,51.6 L157.4,51.2 L158.8,50.9 L160.3,50.6 L161.7,50.5 L163.2,50.5 L164.6,50.5 L166.1,50.7 L167.5,51.0 L169.0,51.4 L170.4,51.8 L171.9,52.4 L173.3,53.1 L174.8,53.9 L176.2,54.7 L177.6,55.6 L179.1,56.5 L180.5,57.5 L182.0,58.5 L183.4,59.5 L184.9,60.5 L186.3,61.4 L187.8,62.4 L189.2,63.3 L190.7,64.2 L192.1,65.0 L193.6,65.7 L195.0,66.4 L196.5,66.9 L197.9,67.4 L199.3,67.8 L200.8,68.1 L202.2,68.3 L203.7,68.5 L205.1,68.7 L206.6,68.8 L208.0,69.0 L209.5,69.1 L210.9,69.2 L212.4,69.3 L213.8,69.5 L215.3,69.7 L216.7,69.9 L218.2,70.2 L219.6,70.6 L221.0,71.0 L222.5,71.6 L223.9,72.2 L225.4,72.9 L226.8,73.8 L228.3,74.7 L229.7,75.8 L231.2,76.9 L232.6,78.1 L234.1,79.4 L235.5,80.8 L237.0,82.2 L238.4,83.7 L239.9,85.2 L241.3,86.7 L242.7,88.3 L244.2,89.9 L245.6,91.5" stroke="#67427f" stroke-width="1.1" fill="none" style="mix-blend-mode:multiply"/>
<path d="M46.0,142.1 L47.4,144.0 L48.9,146.0 L50.3,148.0 L51.8,150.0 L53.2,152.1 L54.7,154.1 L56.1,156.1 L57.6,158.1 L59.0,160.1 L60.5,162.0 L61.9,163.9 L63.4,165.7 L64.8,167.4 L66.3,169.0 L67.7,170.5 L69.1,171.9 L70.6,173.2 L72.0,174.3 L73.5,175.3 L74.9,176.2 L76.4,176.8 L77.8,177.3 L79.3,177.6 L80.7,177.7 L82.2,177.6 L83.6,177.2 L85.1,176.6 L86.5,175.8 L88.0,174.7 L89.4,173.5 L90.8,172.0 L92.3,170.4 L93.7,168.6 L95.2,166.7 L96.6,164.6 L98.1,162.4 L99.5,160.2 L101.0,157.8 L102.4,155.4 L103.9,152.8 L105.3,150.3 L106.8,147.7 L108.2,145.1 L109.7,142.5 L111.1,139.9 L112.5,137.4 L114.0,134.8 L115.4,132.2 L116.9,129.7 L118.3,127.1 L119.8,124.4 L121.2,121.7 L122.7,119.0 L124.1,116.1 L125.6,113.2 L127.0,110.3 L128.5,107.5 L129.9,104.7 L131.4,102.1 L132.8,99.6 L134.2,97.3 L135.7,95.2 L137.1,93.3 L138.6,91.5 L140.0,89.8 L141.5,88.3 L142.9,86.9 L144.4,85.7 L145.8,84.6 L147.3,83.5 L148.7,82.6 L150.2,81.7 L151.6,80.9 L153.1,80.2 L154.5,79.5 L155.9,78.9 L157.4,78.4 L158.8,77.9 L160.3,77.6 L161.7,77.3 L163.2,77.2 L164.6,77.3 L166.1,77.5 L167.5,77.8 L169.0,78.3 L170.4,78.9 L171.9,79.6 L173.3,80.4 L174.8,81.2 L176.2,82.1 L177.6,83.0 L179.1,84.0 L180.5,84.9 L182.0,85.9 L183.4,86.8 L184.9,87.6 L186.3,88.4 L187.8,89.2 L189.2,89.9 L190.7,90.6 L192.1,91.2 L193.6,91.8 L195.0,92.3 L196.5,92.9 L197.9,93.3 L199.3,93.7 L200.8,94.1 L202.2,94.5 L203.7,94.8 L205.1,95.1 L206.6,95.4 L208.0,95.7 L209.5,96.0 L210.9,96.3 L212.4,96.6 L213.8,96.9 L215.3,97.2 L216.7,97.6 L218.2,98.1 L219.6,98.6 L221.0,99.2 L222.5,99.8 L223.9,100.5 L225.4,101.3 L226.8,102.3 L228.3,103.3 L229.7,104.4 L231.2,105.6 L232.6,107.0 L234.1,108.4 L235.5,110.0 L237.0,111.6 L238.4,113.2 L239.9,114.9 L241.3,116.7 L242.7,118.5 L244.2,120.2 L245.6,122.0" stroke="#67427f" stroke-width="1.1" fill="none" style="mix-blend-mode:multiply"/>
<path d="M46.0,128.6 L47.4,130.1 L48.9,131.7 L50.3,133.5 L51.8,135.2 L53.2,137.1 L54.7,139.0 L56.1,140.9 L57.6,142.8 L59.0,144.7 L60.5,146.7 L61.9,148.5 L63.4,150.4 L64.8,152.2 L66.3,153.9 L67.7,155.5 L69.1,157.1 L70.6,158.5 L72.0,159.8 L73.5,160.9 L74.9,161.9 L76.4,162.7 L77.8,163.3 L79.3,163.7 L80.7,163.9 L82.2,163.9 L83.6,163.7 L85.1,163.3 L86.5,162.7 L88.0,161.9 L89.4,160.8 L90.8,159.6 L92.3,158.1 L93.7,156.4 L95.2,154.5 L96.6,152.4 L98.1,150.2 L99.5,147.9 L101.0,145.5 L102.4,143.0 L103.9,140.5 L105.3,138.0 L106.8,135.5 L108.2,133.1 L109.7,130.5 L111.1,127.9 L112.5,125.3 L114.0,122.5 L115.4,119.7 L116.9,116.7 L118.3,113.6 L119.8,110.4 L121.2,107.3 L122.7,104.1 L124.1,101.1 L125.6,98.2 L127.0,95.4 L128.5,92.7 L129.9,90.2 L131.4,87.8 L132.8,85.5 L134.2,83.4 L135.7,81.4 L137.1,79.5 L138.6,77.8 L140.0,76.2 L141.5,74.7 L142.9,73.3 L144.4,72.1 L145.8,71.0 L147.3,70.0 L148.7,69.1 L150.2,68.3 L151.6,67.6 L153.1,66.9 L154.5,66.4 L155.9,65.8 L157.4,65.4 L158.8,65.1 L160.3,64.8 L161.7,64.6 L163.2,64.5 L164.6,64.5 L166.1,64.6 L167.5,64.8 L169.0,65.1 L170.4,65.4 L171.9,65.9 L173.3,66.4 L174.8,67.1 L176.2,67.8 L177.6,68.5 L179.1,69.3 L180.5,70.2 L182.0,71.0 L183.4,72.0 L184.9,72.9 L186.3,73.8 L187.8,74.7 L189.2,75.6 L190.7,76.5 L192.1,77.4 L193.6,78.2 L195.0,78.9 L196.5,79.7 L197.9,80.3 L199.3,80.9 L200.8,81.3 L202.2,81.7 L203.7,82.0 L205.1,82.3 L206.6,82.4 L208.0,82.6 L209.5,82.7 L210.9,82.8 L212.4,82.9 L213.8,83.0 L215.3,83.2 L216.7,83.5 L218.2,83.8 L219.6,84.2 L221.0,84.7 L222.5,85.3 L223.9,86.0 L225.4,87.0 L226.8,88.0 L228.3,89.3 L229.7,90.8 L231.2,92.4 L232.6,94.1 L234.1,95.9 L235.5,97.7 L237.0,99.4 L238.4,100.9 L239.9,102.3 L241.3,103.5 L242.7,104.4 L244.2,104.9 L245.6,105.0" stroke="#67427f" stroke-width="0.95" fill="none" opacity="0.75" style="mix-blend-mode:multiply"/>
<path d="M36.2,26.3 L36.2,184.2 L255.6,184.2" stroke="#1a1a1a" stroke-width="1.3" fill="none"/>
<path d="M33.800000000000004,136.85 L36.2,136.85" stroke="#1a1a1a" stroke-width="1"/>
<text transform="translate(30.00,139.25) scale(0.9300,1)" x="0" y="0" font-size="6.6" text-anchor="end" fill="#1c1c1c" stroke="#1c1c1c" stroke-width="0.1">100</text>
<path d="M33.800000000000004,84.95 L36.2,84.95" stroke="#1a1a1a" stroke-width="1"/>
<text transform="translate(30.00,87.35) scale(0.9300,1)" x="0" y="0" font-size="6.6" text-anchor="end" fill="#1c1c1c" stroke="#1c1c1c" stroke-width="0.1">200</text>
<path d="M33.800000000000004,33.05 L36.2,33.05" stroke="#1a1a1a" stroke-width="1"/>
<text transform="translate(30.00,35.45) scale(0.9300,1)" x="0" y="0" font-size="6.6" text-anchor="end" fill="#1c1c1c" stroke="#1c1c1c" stroke-width="0.1">300</text>
<path d="M46.00,184.2 L46.00,187.6" stroke="#1a1a1a" stroke-width="1"/>
<text transform="translate(46.00,195.80) scale(0.9500,1)" x="0" y="0" font-size="6.6" text-anchor="middle" fill="#1c1c1c" stroke="#1c1c1c" stroke-width="0.1">0</text>
<path d="M54.68,184.2 L54.68,187.6" stroke="#1a1a1a" stroke-width="1"/>
<text transform="translate(54.68,195.80) scale(0.9500,1)" x="0" y="0" font-size="6.6" text-anchor="middle" fill="#1c1c1c" stroke="#1c1c1c" stroke-width="0.1">1</text>
<path d="M63.36,184.2 L63.36,187.6" stroke="#1a1a1a" stroke-width="1"/>
<text transform="translate(63.36,195.80) scale(0.9500,1)" x="0" y="0" font-size="6.6" text-anchor="middle" fill="#1c1c1c" stroke="#1c1c1c" stroke-width="0.1">2</text>
<path d="M72.04,184.2 L72.04,187.6" stroke="#1a1a1a" stroke-width="1"/>
<text transform="translate(72.04,195.80) scale(0.9500,1)" x="0" y="0" font-size="6.6" text-anchor="middle" fill="#1c1c1c" stroke="#1c1c1c" stroke-width="0.1">3</text>
<path d="M80.72,184.2 L80.72,187.6" stroke="#1a1a1a" stroke-width="1"/>
<text transform="translate(80.72,195.80) scale(0.9500,1)" x="0" y="0" font-size="6.6" text-anchor="middle" fill="#1c1c1c" stroke="#1c1c1c" stroke-width="0.1">4</text>
<path d="M89.40,184.2 L89.40,187.6" stroke="#1a1a1a" stroke-width="1"/>
<text transform="translate(89.40,195.80) scale(0.9500,1)" x="0" y="0" font-size="6.6" text-anchor="middle" fill="#1c1c1c" stroke="#1c1c1c" stroke-width="0.1">5</text>
<path d="M98.08,184.2 L98.08,187.6" stroke="#1a1a1a" stroke-width="1"/>
<text transform="translate(98.08,195.80) scale(0.9500,1)" x="0" y="0" font-size="6.6" text-anchor="middle" fill="#1c1c1c" stroke="#1c1c1c" stroke-width="0.1">6</text>
<path d="M106.76,184.2 L106.76,187.6" stroke="#1a1a1a" stroke-width="1"/>
<text transform="translate(106.76,195.80) scale(0.9500,1)" x="0" y="0" font-size="6.6" text-anchor="middle" fill="#1c1c1c" stroke="#1c1c1c" stroke-width="0.1">7</text>
<path d="M115.44,184.2 L115.44,187.6" stroke="#1a1a1a" stroke-width="1"/>
<text transform="translate(115.44,195.80) scale(0.9500,1)" x="0" y="0" font-size="6.6" text-anchor="middle" fill="#1c1c1c" stroke="#1c1c1c" stroke-width="0.1">8</text>
<path d="M124.12,184.2 L124.12,187.6" stroke="#1a1a1a" stroke-width="1"/>
<text transform="translate(124.12,195.80) scale(0.9500,1)" x="0" y="0" font-size="6.6" text-anchor="middle" fill="#1c1c1c" stroke="#1c1c1c" stroke-width="0.1">9</text>
<path d="M132.80,184.2 L132.80,187.6" stroke="#1a1a1a" stroke-width="1"/>
<text transform="translate(132.80,195.80) scale(0.8600,1)" x="0" y="0" font-size="6.6" text-anchor="middle" fill="#1c1c1c" stroke="#1c1c1c" stroke-width="0.1">10</text>
<path d="M141.48,184.2 L141.48,187.6" stroke="#1a1a1a" stroke-width="1"/>
<text transform="translate(141.48,195.80) scale(0.8600,1)" x="0" y="0" font-size="6.6" text-anchor="middle" fill="#1c1c1c" stroke="#1c1c1c" stroke-width="0.1">11</text>
<path d="M150.16,184.2 L150.16,187.6" stroke="#1a1a1a" stroke-width="1"/>
<text transform="translate(150.16,195.80) scale(0.8600,1)" x="0" y="0" font-size="6.6" text-anchor="middle" fill="#1c1c1c" stroke="#1c1c1c" stroke-width="0.1">12</text>
<path d="M158.84,184.2 L158.84,187.6" stroke="#1a1a1a" stroke-width="1"/>
<text transform="translate(158.84,195.80) scale(0.8600,1)" x="0" y="0" font-size="6.6" text-anchor="middle" fill="#1c1c1c" stroke="#1c1c1c" stroke-width="0.1">13</text>
<path d="M167.52,184.2 L167.52,187.6" stroke="#1a1a1a" stroke-width="1"/>
<text transform="translate(167.52,195.80) scale(0.8600,1)" x="0" y="0" font-size="6.6" text-anchor="middle" fill="#1c1c1c" stroke="#1c1c1c" stroke-width="0.1">14</text>
<path d="M176.20,184.2 L176.20,187.6" stroke="#1a1a1a" stroke-width="1"/>
<text transform="translate(176.20,195.80) scale(0.8600,1)" x="0" y="0" font-size="6.6" text-anchor="middle" fill="#1c1c1c" stroke="#1c1c1c" stroke-width="0.1">15</text>
<path d="M184.88,184.2 L184.88,187.6" stroke="#1a1a1a" stroke-width="1"/>
<text transform="translate(184.88,195.80) scale(0.8600,1)" x="0" y="0" font-size="6.6" text-anchor="middle" fill="#1c1c1c" stroke="#1c1c1c" stroke-width="0.1">16</text>
<path d="M193.56,184.2 L193.56,187.6" stroke="#1a1a1a" stroke-width="1"/>
<text transform="translate(193.56,195.80) scale(0.8600,1)" x="0" y="0" font-size="6.6" text-anchor="middle" fill="#1c1c1c" stroke="#1c1c1c" stroke-width="0.1">17</text>
<path d="M202.24,184.2 L202.24,187.6" stroke="#1a1a1a" stroke-width="1"/>
<text transform="translate(202.24,195.80) scale(0.8600,1)" x="0" y="0" font-size="6.6" text-anchor="middle" fill="#1c1c1c" stroke="#1c1c1c" stroke-width="0.1">18</text>
<path d="M210.92,184.2 L210.92,187.6" stroke="#1a1a1a" stroke-width="1"/>
<text transform="translate(210.92,195.80) scale(0.8600,1)" x="0" y="0" font-size="6.6" text-anchor="middle" fill="#1c1c1c" stroke="#1c1c1c" stroke-width="0.1">19</text>
<path d="M219.60,184.2 L219.60,187.6" stroke="#1a1a1a" stroke-width="1"/>
<text transform="translate(219.60,195.80) scale(0.8600,1)" x="0" y="0" font-size="6.6" text-anchor="middle" fill="#1c1c1c" stroke="#1c1c1c" stroke-width="0.1">20</text>
<path d="M228.28,184.2 L228.28,187.6" stroke="#1a1a1a" stroke-width="1"/>
<text transform="translate(228.28,195.80) scale(0.8600,1)" x="0" y="0" font-size="6.6" text-anchor="middle" fill="#1c1c1c" stroke="#1c1c1c" stroke-width="0.1">21</text>
<path d="M236.96,184.2 L236.96,187.6" stroke="#1a1a1a" stroke-width="1"/>
<text transform="translate(236.96,195.80) scale(0.8600,1)" x="0" y="0" font-size="6.6" text-anchor="middle" fill="#1c1c1c" stroke="#1c1c1c" stroke-width="0.1">22</text>
<path d="M245.64,184.2 L245.64,187.6" stroke="#1a1a1a" stroke-width="1"/>
<text transform="translate(245.64,195.80) scale(0.8600,1)" x="0" y="0" font-size="6.6" text-anchor="middle" fill="#1c1c1c" stroke="#1c1c1c" stroke-width="0.1">23</text>
<text transform="translate(123.00,207.50) scale(0.8115,1)" x="0" y="0" font-size="8.2" fill="#1c1c1c" stroke="#1c1c1c" stroke-width="0.12">Hour of the day</text>
<text transform="translate(14.60,107.20) rotate(-90) scale(0.7823,1)" x="0" y="0" font-size="8.8" text-anchor="middle" fill="#1c1c1c" stroke="#1c1c1c" stroke-width="0.12">Average activity (cnts/min)</text>
<text transform="translate(64.00,49.20) scale(0.9542,1)" x="0" y="0" font-size="6.6" fill="#1c1c1c">Day</text>
<rect x="64.40" y="53.30" width="4.80" height="7.80" rx="1" fill="#f0f0f0" stroke="#6aae4c" stroke-width="1.25"/>
<path d="M64.30,57.20 L69.30,57.20" stroke="#6aae4c" stroke-width="1"/>
<rect x="64.40" y="63.80" width="4.80" height="7.80" rx="1" fill="#f0f0f0" stroke="#67427f" stroke-width="1.25"/>
<path d="M64.30,67.70 L69.30,67.70" stroke="#67427f" stroke-width="1"/>
<text transform="translate(72.10,58.70) scale(0.9158,1)" x="0" y="0" font-size="6.9" fill="#1c1c1c">Non–VOC</text>
<text transform="translate(72.10,69.60) scale(0.9214,1)" x="0" y="0" font-size="6.9" fill="#1c1c1c">Any VOC</text>
<path d="M303.5,101.4 L304.9,104.1 L306.4,106.9 L307.8,109.6 L309.3,112.3 L310.7,115.0 L312.2,117.6 L313.6,120.1 L315.1,122.6 L316.5,125.0 L317.9,127.3 L319.4,129.5 L320.8,131.6 L322.3,133.6 L323.7,135.4 L325.2,137.1 L326.6,138.7 L328.1,140.1 L329.5,141.3 L330.9,142.3 L332.4,143.2 L333.8,143.9 L335.3,144.3 L336.7,144.5 L338.2,144.5 L339.6,144.3 L341.0,143.8 L342.5,143.0 L343.9,142.0 L345.4,140.8 L346.8,139.3 L348.3,137.6 L349.7,135.7 L351.2,133.7 L352.6,131.4 L354.0,129.0 L355.5,126.5 L356.9,123.9 L358.4,121.3 L359.8,118.7 L361.3,116.2 L362.7,113.8 L364.2,111.4 L365.6,109.1 L367.0,106.9 L368.5,104.7 L369.9,102.5 L371.4,100.4 L372.8,98.3 L374.3,96.2 L375.7,94.1 L377.2,92.0 L378.6,90.0 L380.0,87.9 L381.5,85.8 L382.9,83.7 L384.4,81.6 L385.8,79.5 L387.3,77.3 L388.7,75.1 L390.1,72.9 L391.6,70.7 L393.0,68.4 L394.5,66.1 L395.9,63.8 L397.4,61.4 L398.8,59.1 L400.3,56.7 L401.7,54.4 L403.1,52.0 L404.6,49.7 L406.0,47.5 L407.5,45.3 L408.9,43.3 L410.4,41.4 L411.8,39.7 L413.3,38.1 L414.7,36.8 L416.1,35.7 L417.6,34.8 L419.0,34.2 L420.5,33.7 L421.9,33.5 L423.4,33.4 L424.8,33.3 L426.3,33.4 L427.7,33.4 L429.1,33.5 L430.6,33.6 L432.0,33.7 L433.5,33.8 L434.9,33.9 L436.4,34.0 L437.8,34.1 L439.3,34.3 L440.7,34.4 L442.1,34.5 L443.6,34.6 L445.0,34.7 L446.5,34.7 L447.9,34.8 L449.4,34.9 L450.8,34.9 L452.2,34.9 L453.7,34.9 L455.1,34.9 L456.6,34.8 L458.0,34.7 L459.5,34.6 L460.9,34.5 L462.4,34.4 L463.8,34.3 L465.2,34.3 L466.7,34.3 L468.1,34.4 L469.6,34.5 L471.0,34.8 L472.5,35.2 L473.9,35.7 L475.4,36.4 L476.8,37.2 L478.2,38.2 L479.7,39.4 L481.1,40.8 L482.6,42.4 L484.0,44.3 L485.5,46.4 L486.9,48.8 L488.4,51.4 L489.8,54.3 L491.2,57.3 L492.7,60.4 L494.1,63.5 L495.6,66.7 L497.0,69.7 L498.5,72.6 L499.9,75.3 L501.4,77.7 L502.8,79.7 L502.8,103.3 L501.4,100.0 L499.9,96.8 L498.5,93.6 L497.0,90.4 L495.6,87.4 L494.1,84.4 L492.7,81.5 L491.2,78.8 L489.8,76.2 L488.4,73.7 L486.9,71.4 L485.5,69.2 L484.0,67.2 L482.6,65.5 L481.1,63.9 L479.7,62.6 L478.2,61.4 L476.8,60.4 L475.4,59.6 L473.9,59.0 L472.5,58.5 L471.0,58.1 L469.6,57.8 L468.1,57.6 L466.7,57.6 L465.2,57.6 L463.8,57.6 L462.4,57.7 L460.9,57.8 L459.5,58.0 L458.0,58.1 L456.6,58.3 L455.1,58.5 L453.7,58.6 L452.2,58.7 L450.8,58.8 L449.4,58.9 L447.9,58.9 L446.5,59.0 L445.0,58.9 L443.6,58.8 L442.1,58.7 L440.7,58.5 L439.3,58.2 L437.8,57.9 L436.4,57.5 L434.9,57.0 L433.5,56.5 L432.0,56.0 L430.6,55.5 L429.1,55.2 L427.7,55.0 L426.3,55.0 L424.8,55.1 L423.4,55.3 L421.9,55.7 L420.5,56.3 L419.0,57.0 L417.6,57.8 L416.1,58.8 L414.7,59.9 L413.3,61.1 L411.8,62.4 L410.4,63.9 L408.9,65.5 L407.5,67.2 L406.0,69.1 L404.6,71.0 L403.1,73.0 L401.7,75.1 L400.3,77.2 L398.8,79.4 L397.4,81.6 L395.9,83.8 L394.5,86.1 L393.0,88.4 L391.6,90.7 L390.1,93.1 L388.7,95.5 L387.3,98.0 L385.8,100.5 L384.4,103.0 L382.9,105.5 L381.5,108.1 L380.0,110.7 L378.6,113.2 L377.2,115.8 L375.7,118.2 L374.3,120.7 L372.8,123.1 L371.4,125.4 L369.9,127.8 L368.5,130.1 L367.0,132.5 L365.6,134.8 L364.2,137.2 L362.7,139.7 L361.3,142.2 L359.8,144.7 L358.4,147.2 L356.9,149.7 L355.5,152.1 L354.0,154.5 L352.6,156.7 L351.2,158.8 L349.7,160.7 L348.3,162.4 L346.8,164.0 L345.4,165.2 L343.9,166.3 L342.5,167.1 L341.0,167.6 L339.6,167.8 L338.2,167.8 L336.7,167.5 L335.3,167.0 L333.8,166.3 L332.4,165.3 L330.9,164.2 L329.5,162.9 L328.1,161.4 L326.6,159.8 L325.2,158.0 L323.7,156.1 L322.3,154.1 L320.8,152.0 L319.4,149.8 L317.9,147.6 L316.5,145.4 L315.1,143.1 L313.6,140.9 L312.2,138.8 L310.7,136.7 L309.3,134.7 L307.8,132.8 L306.4,131.1 L304.9,129.5 L303.5,128.1 Z" fill="rgba(185,185,195,0.30)" stroke="none"/>
<path d="M303.5,108.9 L304.9,111.3 L306.4,113.7 L307.8,116.1 L309.3,118.4 L310.7,120.7 L312.2,123.0 L313.6,125.3 L315.1,127.5 L316.5,129.6 L317.9,131.7 L319.4,133.7 L320.8,135.6 L322.3,137.5 L323.7,139.2 L325.2,140.8 L326.6,142.3 L328.1,143.7 L329.5,145.0 L330.9,146.1 L332.4,147.0 L333.8,147.8 L335.3,148.4 L336.7,148.8 L338.2,148.9 L339.6,148.9 L341.0,148.7 L342.5,148.2 L343.9,147.5 L345.4,146.5 L346.8,145.3 L348.3,143.9 L349.7,142.3 L351.2,140.4 L352.6,138.2 L354.0,135.9 L355.5,133.3 L356.9,130.6 L358.4,127.6 L359.8,124.5 L361.3,121.2 L362.7,117.9 L364.2,114.4 L365.6,110.9 L367.0,107.3 L368.5,103.7 L369.9,100.2 L371.4,96.6 L372.8,93.1 L374.3,89.8 L375.7,86.5 L377.2,83.3 L378.6,80.2 L380.0,77.2 L381.5,74.4 L382.9,71.6 L384.4,68.9 L385.8,66.4 L387.3,64.0 L388.7,61.6 L390.1,59.4 L391.6,57.2 L393.0,55.2 L394.5,53.3 L395.9,51.5 L397.4,49.7 L398.8,48.1 L400.3,46.6 L401.7,45.2 L403.1,43.8 L404.6,42.6 L406.0,41.5 L407.5,40.5 L408.9,39.6 L410.4,38.8 L411.8,38.0 L413.3,37.4 L414.7,36.9 L416.1,36.5 L417.6,36.2 L419.0,35.9 L420.5,35.8 L421.9,35.8 L423.4,35.9 L424.8,36.1 L426.3,36.3 L427.7,36.7 L429.1,37.2 L430.6,37.7 L432.0,38.4 L433.5,39.1 L434.9,39.9 L436.4,40.8 L437.8,41.7 L439.3,42.6 L440.7,43.6 L442.1,44.6 L443.6,45.7 L445.0,46.7 L446.5,47.7 L447.9,48.8 L449.4,49.8 L450.8,50.7 L452.2,51.7 L453.7,52.5 L455.1,53.4 L456.6,54.1 L458.0,54.8 L459.5,55.4 L460.9,55.9 L462.4,56.3 L463.8,56.6 L465.2,56.9 L466.7,57.2 L468.1,57.4 L469.6,57.6 L471.0,57.8 L472.5,57.9 L473.9,58.1 L475.4,58.4 L476.8,58.6 L478.2,58.9 L479.7,59.3 L481.1,59.8 L482.6,60.3 L484.0,61.0 L485.5,61.7 L486.9,62.6 L488.4,63.6 L489.8,64.7 L491.2,66.0 L492.7,67.3 L494.1,68.8 L495.6,70.4 L497.0,72.2 L498.5,74.0 L499.9,76.0 L501.4,78.1 L502.8,80.4 L502.8,111.4 L501.4,108.5 L499.9,105.8 L498.5,103.4 L497.0,101.2 L495.6,99.2 L494.1,97.4 L492.7,95.7 L491.2,94.3 L489.8,93.0 L488.4,91.8 L486.9,90.8 L485.5,90.0 L484.0,89.2 L482.6,88.6 L481.1,88.0 L479.7,87.5 L478.2,87.1 L476.8,86.8 L475.4,86.5 L473.9,86.3 L472.5,86.0 L471.0,85.8 L469.6,85.6 L468.1,85.4 L466.7,85.2 L465.2,85.0 L463.8,84.7 L462.4,84.3 L460.9,83.9 L459.5,83.3 L458.0,82.7 L456.6,81.9 L455.1,81.1 L453.7,80.2 L452.2,79.3 L450.8,78.3 L449.4,77.2 L447.9,76.2 L446.5,75.1 L445.0,74.1 L443.6,73.0 L442.1,72.0 L440.7,71.0 L439.3,70.1 L437.8,69.3 L436.4,68.5 L434.9,67.7 L433.5,67.1 L432.0,66.4 L430.6,65.9 L429.1,65.5 L427.7,65.1 L426.3,64.8 L424.8,64.5 L423.4,64.4 L421.9,64.3 L420.5,64.4 L419.0,64.5 L417.6,64.7 L416.1,65.0 L414.7,65.4 L413.3,65.9 L411.8,66.5 L410.4,67.2 L408.9,68.0 L407.5,68.9 L406.0,69.9 L404.6,71.0 L403.1,72.2 L401.7,73.6 L400.3,75.0 L398.8,76.6 L397.4,78.2 L395.9,80.0 L394.5,81.8 L393.0,83.8 L391.6,85.9 L390.1,88.1 L388.7,90.4 L387.3,92.8 L385.8,95.4 L384.4,98.0 L382.9,100.7 L381.5,103.5 L380.0,106.4 L378.6,109.3 L377.2,112.3 L375.7,115.4 L374.3,118.5 L372.8,121.6 L371.4,124.8 L369.9,128.0 L368.5,131.2 L367.0,134.4 L365.6,137.6 L364.2,140.8 L362.7,143.9 L361.3,147.1 L359.8,150.2 L358.4,153.2 L356.9,156.2 L355.5,159.1 L354.0,162.0 L352.6,164.6 L351.2,167.1 L349.7,169.4 L348.3,171.3 L346.8,173.0 L345.4,174.4 L343.9,175.5 L342.5,176.4 L341.0,177.0 L339.6,177.4 L338.2,177.5 L336.7,177.4 L335.3,177.1 L333.8,176.7 L332.4,176.0 L330.9,175.1 L329.5,174.0 L328.1,172.8 L326.6,171.3 L325.2,169.7 L323.7,167.9 L322.3,165.9 L320.8,163.8 L319.4,161.5 L317.9,159.1 L316.5,156.5 L315.1,153.8 L313.6,151.1 L312.2,148.5 L310.7,146.2 L309.3,144.1 L307.8,142.5 L306.4,141.3 L304.9,140.7 L303.5,140.8 Z" fill="rgba(185,185,195,0.30)" stroke="none"/>
<path d="M303.5,110.5 L304.9,111.7 L306.4,112.8 L307.8,113.9 L309.3,114.9 L310.7,115.9 L312.2,116.8 L313.6,117.7 L315.1,118.5 L316.5,119.3 L317.9,120.0 L319.4,120.7 L320.8,121.3 L322.3,121.8 L323.7,122.4 L325.2,122.8 L326.6,123.3 L328.1,123.6 L329.5,124.0 L330.9,124.3 L332.4,124.5 L333.8,124.7 L335.3,124.9 L336.7,125.0 L338.2,125.1 L339.6,125.1 L341.0,125.1 L342.5,125.1 L343.9,125.0 L345.4,124.9 L346.8,124.7 L348.3,124.5 L349.7,124.3 L351.2,124.1 L352.6,123.8 L354.0,123.5 L355.5,123.2 L356.9,122.8 L358.4,122.4 L359.8,122.0 L361.3,121.6 L362.7,121.1 L364.2,120.7 L365.6,120.2 L367.0,119.7 L368.5,119.2 L369.9,118.7 L371.4,118.2 L372.8,117.6 L374.3,117.1 L375.7,116.5 L377.2,116.0 L378.6,115.4 L380.0,114.9 L381.5,114.3 L382.9,113.8 L384.4,113.2 L385.8,112.7 L387.3,112.1 L388.7,111.6 L390.1,111.0 L391.6,110.5 L393.0,110.0 L394.5,109.5 L395.9,109.0 L397.4,108.6 L398.8,108.1 L400.3,107.7 L401.7,107.2 L403.1,106.8 L404.6,106.4 L406.0,106.0 L407.5,105.6 L408.9,105.3 L410.4,104.9 L411.8,104.6 L413.3,104.3 L414.7,104.0 L416.1,103.7 L417.6,103.4 L419.0,103.1 L420.5,102.9 L421.9,102.7 L423.4,102.5 L424.8,102.3 L426.3,102.1 L427.7,102.0 L429.1,101.9 L430.6,101.8 L432.0,101.7 L433.5,101.6 L434.9,101.6 L436.4,101.5 L437.8,101.5 L439.3,101.6 L440.7,101.6 L442.1,101.7 L443.6,101.8 L445.0,101.9 L446.5,102.0 L447.9,102.1 L449.4,102.3 L450.8,102.5 L452.2,102.7 L453.7,102.9 L455.1,103.1 L456.6,103.4 L458.0,103.6 L459.5,103.9 L460.9,104.2 L462.4,104.5 L463.8,104.7 L465.2,105.0 L466.7,105.3 L468.1,105.7 L469.6,106.0 L471.0,106.3 L472.5,106.6 L473.9,106.9 L475.4,107.2 L476.8,107.5 L478.2,107.8 L479.7,108.1 L481.1,108.4 L482.6,108.7 L484.0,108.9 L485.5,109.2 L486.9,109.5 L488.4,109.7 L489.8,109.9 L491.2,110.2 L492.7,110.4 L494.1,110.5 L495.6,110.7 L497.0,110.9 L498.5,111.0 L499.9,111.1 L501.4,111.2 L502.8,111.3 L502.8,154.0 L501.4,153.4 L499.9,152.7 L498.5,152.1 L497.0,151.5 L495.6,150.9 L494.1,150.3 L492.7,149.7 L491.2,149.1 L489.8,148.5 L488.4,147.9 L486.9,147.4 L485.5,146.8 L484.0,146.3 L482.6,145.7 L481.1,145.2 L479.7,144.7 L478.2,144.2 L476.8,143.7 L475.4,143.3 L473.9,142.8 L472.5,142.3 L471.0,141.9 L469.6,141.5 L468.1,141.0 L466.7,140.6 L465.2,140.2 L463.8,139.9 L462.4,139.5 L460.9,139.1 L459.5,138.8 L458.0,138.5 L456.6,138.2 L455.1,137.9 L453.7,137.6 L452.2,137.3 L450.8,137.1 L449.4,136.8 L447.9,136.6 L446.5,136.4 L445.0,136.2 L443.6,136.0 L442.1,135.9 L440.7,135.7 L439.3,135.6 L437.8,135.5 L436.4,135.4 L434.9,135.4 L433.5,135.3 L432.0,135.3 L430.6,135.2 L429.1,135.2 L427.7,135.3 L426.3,135.3 L424.8,135.3 L423.4,135.4 L421.9,135.5 L420.5,135.6 L419.0,135.8 L417.6,135.9 L416.1,136.1 L414.7,136.3 L413.3,136.5 L411.8,136.7 L410.4,137.0 L408.9,137.3 L407.5,137.6 L406.0,137.9 L404.6,138.2 L403.1,138.6 L401.7,139.0 L400.3,139.4 L398.8,139.8 L397.4,140.3 L395.9,140.7 L394.5,141.2 L393.0,141.8 L391.6,142.3 L390.1,142.9 L388.7,143.5 L387.3,144.1 L385.8,144.8 L384.4,145.4 L382.9,146.1 L381.5,146.8 L380.0,147.4 L378.6,148.1 L377.2,148.8 L375.7,149.5 L374.3,150.2 L372.8,150.9 L371.4,151.6 L369.9,152.2 L368.5,152.9 L367.0,153.5 L365.6,154.1 L364.2,154.7 L362.7,155.2 L361.3,155.8 L359.8,156.3 L358.4,156.7 L356.9,157.2 L355.5,157.6 L354.0,157.9 L352.6,158.2 L351.2,158.5 L349.7,158.7 L348.3,158.8 L346.8,158.9 L345.4,159.0 L343.9,159.0 L342.5,158.9 L341.0,158.9 L339.6,158.7 L338.2,158.6 L336.7,158.4 L335.3,158.2 L333.8,158.0 L332.4,157.8 L330.9,157.5 L329.5,157.2 L328.1,157.0 L326.6,156.7 L325.2,156.4 L323.7,156.1 L322.3,155.8 L320.8,155.5 L319.4,155.2 L317.9,154.9 L316.5,154.7 L315.1,154.4 L313.6,154.2 L312.2,154.0 L310.7,153.9 L309.3,153.7 L307.8,153.6 L306.4,153.6 L304.9,153.5 L303.5,153.5 Z" fill="rgba(185,185,195,0.30)" stroke="none"/>
<path d="M303.5,101.4 L304.9,104.1 L306.4,106.9 L307.8,109.6 L309.3,112.3 L310.7,115.0 L312.2,117.6 L313.6,120.1 L315.1,122.6 L316.5,125.0 L317.9,127.3 L319.4,129.5 L320.8,131.6 L322.3,133.6 L323.7,135.4 L325.2,137.1 L326.6,138.7 L328.1,140.1 L329.5,141.3 L330.9,142.3 L332.4,143.2 L333.8,143.9 L335.3,144.3 L336.7,144.5 L338.2,144.5 L339.6,144.3 L341.0,143.8 L342.5,143.0 L343.9,142.0 L345.4,140.8 L346.8,139.3 L348.3,137.6 L349.7,135.7 L351.2,133.7 L352.6,131.4 L354.0,129.0 L355.5,126.5 L356.9,123.9 L358.4,121.3 L359.8,118.7 L361.3,116.2 L362.7,113.8 L364.2,111.4 L365.6,109.1 L367.0,106.9 L368.5,104.7 L369.9,102.5 L371.4,100.4 L372.8,98.3 L374.3,96.2 L375.7,94.1 L377.2,92.0 L378.6,90.0 L380.0,87.9 L381.5,85.8 L382.9,83.7 L384.4,81.6 L385.8,79.5 L387.3,77.3 L388.7,75.1 L390.1,72.9 L391.6,70.7 L393.0,68.4 L394.5,66.1 L395.9,63.8 L397.4,61.4 L398.8,59.1 L400.3,56.7 L401.7,54.4 L403.1,52.0 L404.6,49.7 L406.0,47.5 L407.5,45.3 L408.9,43.3 L410.4,41.4 L411.8,39.7 L413.3,38.1 L414.7,36.8 L416.1,35.7 L417.6,34.8 L419.0,34.2 L420.5,33.7 L421.9,33.5 L423.4,33.4 L424.8,33.3 L426.3,33.4 L427.7,33.4 L429.1,33.5 L430.6,33.6 L432.0,33.7 L433.5,33.8 L434.9,33.9 L436.4,34.0 L437.8,34.1 L439.3,34.3 L440.7,34.4 L442.1,34.5 L443.6,34.6 L445.0,34.7 L446.5,34.7 L447.9,34.8 L449.4,34.9 L450.8,34.9 L452.2,34.9 L453.7,34.9 L455.1,34.9 L456.6,34.8 L458.0,34.7 L459.5,34.6 L460.9,34.5 L462.4,34.4 L463.8,34.3 L465.2,34.3 L466.7,34.3 L468.1,34.4 L469.6,34.5 L471.0,34.8 L472.5,35.2 L473.9,35.7 L475.4,36.4 L476.8,37.2 L478.2,38.2 L479.7,39.4 L481.1,40.8 L482.6,42.4 L484.0,44.3 L485.5,46.4 L486.9,48.8 L488.4,51.4 L489.8,54.3 L491.2,57.3 L492.7,60.4 L494.1,63.5 L495.6,66.7 L497.0,69.7 L498.5,72.6 L499.9,75.3 L501.4,77.7 L502.8,79.7" stroke="#fff" stroke-opacity="0.55" stroke-width="2.6" fill="none"/>
<path d="M303.5,116.1 L304.9,118.4 L306.4,120.7 L307.8,123.0 L309.3,125.3 L310.7,127.7 L312.2,130.0 L313.6,132.2 L315.1,134.5 L316.5,136.6 L317.9,138.8 L319.4,140.8 L320.8,142.8 L322.3,144.6 L323.7,146.4 L325.2,148.0 L326.6,149.5 L328.1,150.9 L329.5,152.1 L330.9,153.1 L332.4,154.0 L333.8,154.7 L335.3,155.2 L336.7,155.5 L338.2,155.6 L339.6,155.4 L341.0,155.1 L342.5,154.4 L343.9,153.6 L345.4,152.5 L346.8,151.2 L348.3,149.7 L349.7,148.0 L351.2,146.2 L352.6,144.3 L354.0,142.2 L355.5,140.0 L356.9,137.7 L358.4,135.4 L359.8,133.0 L361.3,130.5 L362.7,128.1 L364.2,125.5 L365.6,123.0 L367.0,120.5 L368.5,118.0 L369.9,115.6 L371.4,113.1 L372.8,110.7 L374.3,108.3 L375.7,106.0 L377.2,103.6 L378.6,101.3 L380.0,99.0 L381.5,96.7 L382.9,94.4 L384.4,92.1 L385.8,89.9 L387.3,87.6 L388.7,85.4 L390.1,83.1 L391.6,80.9 L393.0,78.6 L394.5,76.4 L395.9,74.2 L397.4,71.9 L398.8,69.7 L400.3,67.4 L401.7,65.2 L403.1,62.9 L404.6,60.7 L406.0,58.4 L407.5,56.2 L408.9,54.1 L410.4,52.0 L411.8,50.2 L413.3,48.5 L414.7,47.2 L416.1,46.1 L417.6,45.3 L419.0,44.7 L420.5,44.3 L421.9,44.1 L423.4,44.0 L424.8,43.9 L426.3,44.0 L427.7,44.2 L429.1,44.4 L430.6,44.6 L432.0,44.9 L433.5,45.3 L434.9,45.6 L436.4,46.0 L437.8,46.3 L439.3,46.7 L440.7,47.0 L442.1,47.2 L443.6,47.5 L445.0,47.6 L446.5,47.7 L447.9,47.7 L449.4,47.6 L450.8,47.5 L452.2,47.2 L453.7,47.0 L455.1,46.7 L456.6,46.4 L458.0,46.1 L459.5,45.8 L460.9,45.5 L462.4,45.3 L463.8,45.1 L465.2,45.0 L466.7,45.0 L468.1,45.0 L469.6,45.2 L471.0,45.5 L472.5,45.9 L473.9,46.6 L475.4,47.4 L476.8,48.5 L478.2,49.8 L479.7,51.3 L481.1,53.0 L482.6,54.9 L484.0,57.0 L485.5,59.3 L486.9,61.6 L488.4,64.1 L489.8,66.6 L491.2,69.2 L492.7,71.9 L494.1,74.6 L495.6,77.3 L497.0,80.0 L498.5,82.8 L499.9,85.4 L501.4,88.1 L502.8,90.6" stroke="#fff" stroke-opacity="0.55" stroke-width="2.6" fill="none"/>
<path d="M303.5,128.1 L304.9,129.5 L306.4,131.1 L307.8,132.8 L309.3,134.7 L310.7,136.7 L312.2,138.8 L313.6,140.9 L315.1,143.1 L316.5,145.4 L317.9,147.6 L319.4,149.8 L320.8,152.0 L322.3,154.1 L323.7,156.1 L325.2,158.0 L326.6,159.8 L328.1,161.4 L329.5,162.9 L330.9,164.2 L332.4,165.3 L333.8,166.3 L335.3,167.0 L336.7,167.5 L338.2,167.8 L339.6,167.8 L341.0,167.6 L342.5,167.1 L343.9,166.3 L345.4,165.2 L346.8,164.0 L348.3,162.4 L349.7,160.7 L351.2,158.8 L352.6,156.7 L354.0,154.5 L355.5,152.1 L356.9,149.7 L358.4,147.2 L359.8,144.7 L361.3,142.2 L362.7,139.7 L364.2,137.2 L365.6,134.8 L367.0,132.5 L368.5,130.1 L369.9,127.8 L371.4,125.4 L372.8,123.1 L374.3,120.7 L375.7,118.2 L377.2,115.8 L378.6,113.2 L380.0,110.7 L381.5,108.1 L382.9,105.5 L384.4,103.0 L385.8,100.5 L387.3,98.0 L388.7,95.5 L390.1,93.1 L391.6,90.7 L393.0,88.4 L394.5,86.1 L395.9,83.8 L397.4,81.6 L398.8,79.4 L400.3,77.2 L401.7,75.1 L403.1,73.0 L404.6,71.0 L406.0,69.1 L407.5,67.2 L408.9,65.5 L410.4,63.9 L411.8,62.4 L413.3,61.1 L414.7,59.9 L416.1,58.8 L417.6,57.8 L419.0,57.0 L420.5,56.3 L421.9,55.7 L423.4,55.3 L424.8,55.1 L426.3,55.0 L427.7,55.0 L429.1,55.2 L430.6,55.5 L432.0,56.0 L433.5,56.5 L434.9,57.0 L436.4,57.5 L437.8,57.9 L439.3,58.2 L440.7,58.5 L442.1,58.7 L443.6,58.8 L445.0,58.9 L446.5,59.0 L447.9,58.9 L449.4,58.9 L450.8,58.8 L452.2,58.7 L453.7,58.6 L455.1,58.5 L456.6,58.3 L458.0,58.1 L459.5,58.0 L460.9,57.8 L462.4,57.7 L463.8,57.6 L465.2,57.6 L466.7,57.6 L468.1,57.6 L469.6,57.8 L471.0,58.1 L472.5,58.5 L473.9,59.0 L475.4,59.6 L476.8,60.4 L478.2,61.4 L479.7,62.6 L481.1,63.9 L482.6,65.5 L484.0,67.2 L485.5,69.2 L486.9,71.4 L488.4,73.7 L489.8,76.2 L491.2,78.8 L492.7,81.5 L494.1,84.4 L495.6,87.4 L497.0,90.4 L498.5,93.6 L499.9,96.8 L501.4,100.0 L502.8,103.3" stroke="#fff" stroke-opacity="0.55" stroke-width="2.6" fill="none"/>
<path d="M303.5,108.9 L304.9,111.3 L306.4,113.7 L307.8,116.1 L309.3,118.4 L310.7,120.7 L312.2,123.0 L313.6,125.3 L315.1,127.5 L316.5,129.6 L317.9,131.7 L319.4,133.7 L320.8,135.6 L322.3,137.5 L323.7,139.2 L325.2,140.8 L326.6,142.3 L328.1,143.7 L329.5,145.0 L330.9,146.1 L332.4,147.0 L333.8,147.8 L335.3,148.4 L336.7,148.8 L338.2,148.9 L339.6,148.9 L341.0,148.7 L342.5,148.2 L343.9,147.5 L345.4,146.5 L346.8,145.3 L348.3,143.9 L349.7,142.3 L351.2,140.4 L352.6,138.2 L354.0,135.9 L355.5,133.3 L356.9,130.6 L358.4,127.6 L359.8,124.5 L361.3,121.2 L362.7,117.9 L364.2,114.4 L365.6,110.9 L367.0,107.3 L368.5,103.7 L369.9,100.2 L371.4,96.6 L372.8,93.1 L374.3,89.8 L375.7,86.5 L377.2,83.3 L378.6,80.2 L380.0,77.2 L381.5,74.4 L382.9,71.6 L384.4,68.9 L385.8,66.4 L387.3,64.0 L388.7,61.6 L390.1,59.4 L391.6,57.2 L393.0,55.2 L394.5,53.3 L395.9,51.5 L397.4,49.7 L398.8,48.1 L400.3,46.6 L401.7,45.2 L403.1,43.8 L404.6,42.6 L406.0,41.5 L407.5,40.5 L408.9,39.6 L410.4,38.8 L411.8,38.0 L413.3,37.4 L414.7,36.9 L416.1,36.5 L417.6,36.2 L419.0,35.9 L420.5,35.8 L421.9,35.8 L423.4,35.9 L424.8,36.1 L426.3,36.3 L427.7,36.7 L429.1,37.2 L430.6,37.7 L432.0,38.4 L433.5,39.1 L434.9,39.9 L436.4,40.8 L437.8,41.7 L439.3,42.6 L440.7,43.6 L442.1,44.6 L443.6,45.7 L445.0,46.7 L446.5,47.7 L447.9,48.8 L449.4,49.8 L450.8,50.7 L452.2,51.7 L453.7,52.5 L455.1,53.4 L456.6,54.1 L458.0,54.8 L459.5,55.4 L460.9,55.9 L462.4,56.3 L463.8,56.6 L465.2,56.9 L466.7,57.2 L468.1,57.4 L469.6,57.6 L471.0,57.8 L472.5,57.9 L473.9,58.1 L475.4,58.4 L476.8,58.6 L478.2,58.9 L479.7,59.3 L481.1,59.8 L482.6,60.3 L484.0,61.0 L485.5,61.7 L486.9,62.6 L488.4,63.6 L489.8,64.7 L491.2,66.0 L492.7,67.3 L494.1,68.8 L495.6,70.4 L497.0,72.2 L498.5,74.0 L499.9,76.0 L501.4,78.1 L502.8,80.4" stroke="#fff" stroke-opacity="0.55" stroke-width="2.6" fill="none"/>
<path d="M303.5,125.1 L304.9,125.1 L306.4,125.6 L307.8,126.3 L309.3,127.3 L310.7,128.6 L312.2,130.1 L313.6,131.8 L315.1,133.6 L316.5,135.6 L317.9,137.8 L319.4,140.0 L320.8,142.2 L322.3,144.5 L323.7,146.8 L325.2,149.1 L326.6,151.3 L328.1,153.4 L329.5,155.4 L330.9,157.3 L332.4,159.0 L333.8,160.5 L335.3,161.8 L336.7,162.8 L338.2,163.5 L339.6,164.0 L341.0,164.0 L342.5,163.8 L343.9,163.2 L345.4,162.2 L346.8,161.0 L348.3,159.4 L349.7,157.6 L351.2,155.5 L352.6,153.1 L354.0,150.6 L355.5,147.8 L356.9,144.8 L358.4,141.6 L359.8,138.3 L361.3,134.8 L362.7,131.2 L364.2,127.6 L365.6,123.8 L367.0,120.1 L368.5,116.3 L369.9,112.6 L371.4,108.9 L372.8,105.4 L374.3,101.9 L375.7,98.7 L377.2,95.6 L378.6,92.7 L380.0,90.0 L381.5,87.6 L382.9,85.4 L384.4,83.3 L385.8,81.3 L387.3,79.4 L388.7,77.6 L390.1,75.8 L391.6,74.0 L393.0,72.1 L394.5,70.2 L395.9,68.2 L397.4,66.1 L398.8,64.1 L400.3,62.2 L401.7,60.4 L403.1,58.8 L404.6,57.3 L406.0,55.9 L407.5,54.7 L408.9,53.6 L410.4,52.6 L411.8,51.8 L413.3,51.0 L414.7,50.4 L416.1,49.8 L417.6,49.4 L419.0,49.2 L420.5,49.0 L421.9,49.0 L423.4,49.1 L424.8,49.3 L426.3,49.7 L427.7,50.2 L429.1,50.8 L430.6,51.6 L432.0,52.4 L433.5,53.4 L434.9,54.5 L436.4,55.6 L437.8,56.8 L439.3,57.9 L440.7,59.1 L442.1,60.2 L443.6,61.4 L445.0,62.4 L446.5,63.4 L447.9,64.4 L449.4,65.3 L450.8,66.2 L452.2,66.9 L453.7,67.7 L455.1,68.3 L456.6,68.9 L458.0,69.4 L459.5,69.8 L460.9,70.2 L462.4,70.4 L463.8,70.7 L465.2,70.8 L466.7,71.0 L468.1,71.1 L469.6,71.2 L471.0,71.3 L472.5,71.5 L473.9,71.6 L475.4,71.9 L476.8,72.2 L478.2,72.5 L479.7,73.0 L481.1,73.5 L482.6,74.2 L484.0,75.0 L485.5,75.9 L486.9,77.0 L488.4,78.2 L489.8,79.6 L491.2,81.1 L492.7,82.6 L494.1,84.3 L495.6,86.1 L497.0,88.0 L498.5,90.0 L499.9,92.1 L501.4,94.3 L502.8,96.5" stroke="#fff" stroke-opacity="0.55" stroke-width="2.6" fill="none"/>
<path d="M303.5,140.8 L304.9,140.7 L306.4,141.3 L307.8,142.5 L309.3,144.1 L310.7,146.2 L312.2,148.5 L313.6,151.1 L315.1,153.8 L316.5,156.5 L317.9,159.1 L319.4,161.5 L320.8,163.8 L322.3,165.9 L323.7,167.9 L325.2,169.7 L326.6,171.3 L328.1,172.8 L329.5,174.0 L330.9,175.1 L332.4,176.0 L333.8,176.7 L335.3,177.1 L336.7,177.4 L338.2,177.5 L339.6,177.4 L341.0,177.0 L342.5,176.4 L343.9,175.5 L345.4,174.4 L346.8,173.0 L348.3,171.3 L349.7,169.4 L351.2,167.1 L352.6,164.6 L354.0,162.0 L355.5,159.1 L356.9,156.2 L358.4,153.2 L359.8,150.2 L361.3,147.1 L362.7,143.9 L364.2,140.8 L365.6,137.6 L367.0,134.4 L368.5,131.2 L369.9,128.0 L371.4,124.8 L372.8,121.6 L374.3,118.5 L375.7,115.4 L377.2,112.3 L378.6,109.3 L380.0,106.4 L381.5,103.5 L382.9,100.7 L384.4,98.0 L385.8,95.4 L387.3,92.8 L388.7,90.4 L390.1,88.1 L391.6,85.9 L393.0,83.8 L394.5,81.8 L395.9,80.0 L397.4,78.2 L398.8,76.6 L400.3,75.0 L401.7,73.6 L403.1,72.2 L404.6,71.0 L406.0,69.9 L407.5,68.9 L408.9,68.0 L410.4,67.2 L411.8,66.5 L413.3,65.9 L414.7,65.4 L416.1,65.0 L417.6,64.7 L419.0,64.5 L420.5,64.4 L421.9,64.3 L423.4,64.4 L424.8,64.5 L426.3,64.8 L427.7,65.1 L429.1,65.5 L430.6,65.9 L432.0,66.4 L433.5,67.1 L434.9,67.7 L436.4,68.5 L437.8,69.3 L439.3,70.1 L440.7,71.0 L442.1,72.0 L443.6,73.0 L445.0,74.1 L446.5,75.1 L447.9,76.2 L449.4,77.2 L450.8,78.3 L452.2,79.3 L453.7,80.2 L455.1,81.1 L456.6,81.9 L458.0,82.7 L459.5,83.3 L460.9,83.9 L462.4,84.3 L463.8,84.7 L465.2,85.0 L466.7,85.2 L468.1,85.4 L469.6,85.6 L471.0,85.8 L472.5,86.0 L473.9,86.3 L475.4,86.5 L476.8,86.8 L478.2,87.1 L479.7,87.5 L481.1,88.0 L482.6,88.6 L484.0,89.2 L485.5,90.0 L486.9,90.8 L488.4,91.8 L489.8,93.0 L491.2,94.3 L492.7,95.7 L494.1,97.4 L495.6,99.2 L497.0,101.2 L498.5,103.4 L499.9,105.8 L501.4,108.5 L502.8,111.4" stroke="#fff" stroke-opacity="0.55" stroke-width="2.6" fill="none"/>
<path d="M303.5,110.5 L304.9,111.7 L306.4,112.8 L307.8,113.9 L309.3,114.9 L310.7,115.9 L312.2,116.8 L313.6,117.7 L315.1,118.5 L316.5,119.3 L317.9,120.0 L319.4,120.7 L320.8,121.3 L322.3,121.8 L323.7,122.4 L325.2,122.8 L326.6,123.3 L328.1,123.6 L329.5,124.0 L330.9,124.3 L332.4,124.5 L333.8,124.7 L335.3,124.9 L336.7,125.0 L338.2,125.1 L339.6,125.1 L341.0,125.1 L342.5,125.1 L343.9,125.0 L345.4,124.9 L346.8,124.7 L348.3,124.5 L349.7,124.3 L351.2,124.1 L352.6,123.8 L354.0,123.5 L355.5,123.2 L356.9,122.8 L358.4,122.4 L359.8,122.0 L361.3,121.6 L362.7,121.1 L364.2,120.7 L365.6,120.2 L367.0,119.7 L368.5,119.2 L369.9,118.7 L371.4,118.2 L372.8,117.6 L374.3,117.1 L375.7,116.5 L377.2,116.0 L378.6,115.4 L380.0,114.9 L381.5,114.3 L382.9,113.8 L384.4,113.2 L385.8,112.7 L387.3,112.1 L388.7,111.6 L390.1,111.0 L391.6,110.5 L393.0,110.0 L394.5,109.5 L395.9,109.0 L397.4,108.6 L398.8,108.1 L400.3,107.7 L401.7,107.2 L403.1,106.8 L404.6,106.4 L406.0,106.0 L407.5,105.6 L408.9,105.3 L410.4,104.9 L411.8,104.6 L413.3,104.3 L414.7,104.0 L416.1,103.7 L417.6,103.4 L419.0,103.1 L420.5,102.9 L421.9,102.7 L423.4,102.5 L424.8,102.3 L426.3,102.1 L427.7,102.0 L429.1,101.9 L430.6,101.8 L432.0,101.7 L433.5,101.6 L434.9,101.6 L436.4,101.5 L437.8,101.5 L439.3,101.6 L440.7,101.6 L442.1,101.7 L443.6,101.8 L445.0,101.9 L446.5,102.0 L447.9,102.1 L449.4,102.3 L450.8,102.5 L452.2,102.7 L453.7,102.9 L455.1,103.1 L456.6,103.4 L458.0,103.6 L459.5,103.9 L460.9,104.2 L462.4,104.5 L463.8,104.7 L465.2,105.0 L466.7,105.3 L468.1,105.7 L469.6,106.0 L471.0,106.3 L472.5,106.6 L473.9,106.9 L475.4,107.2 L476.8,107.5 L478.2,107.8 L479.7,108.1 L481.1,108.4 L482.6,108.7 L484.0,108.9 L485.5,109.2 L486.9,109.5 L488.4,109.7 L489.8,109.9 L491.2,110.2 L492.7,110.4 L494.1,110.5 L495.6,110.7 L497.0,110.9 L498.5,111.0 L499.9,111.1 L501.4,111.2 L502.8,111.3" stroke="#fff" stroke-opacity="0.55" stroke-width="2.6" fill="none"/>
<path d="M303.5,132.2 L304.9,132.8 L306.4,133.4 L307.8,134.0 L309.3,134.6 L310.7,135.1 L312.2,135.7 L313.6,136.2 L315.1,136.7 L316.5,137.2 L317.9,137.7 L319.4,138.2 L320.8,138.6 L322.3,139.1 L323.7,139.5 L325.2,139.9 L326.6,140.2 L328.1,140.6 L329.5,140.9 L330.9,141.2 L332.4,141.4 L333.8,141.7 L335.3,141.9 L336.7,142.1 L338.2,142.2 L339.6,142.3 L341.0,142.4 L342.5,142.5 L343.9,142.5 L345.4,142.5 L346.8,142.5 L348.3,142.4 L349.7,142.3 L351.2,142.2 L352.6,142.0 L354.0,141.8 L355.5,141.6 L356.9,141.3 L358.4,141.0 L359.8,140.6 L361.3,140.2 L362.7,139.8 L364.2,139.3 L365.6,138.8 L367.0,138.2 L368.5,137.6 L369.9,137.0 L371.4,136.3 L372.8,135.6 L374.3,134.9 L375.7,134.2 L377.2,133.5 L378.6,132.8 L380.0,132.1 L381.5,131.3 L382.9,130.6 L384.4,129.9 L385.8,129.2 L387.3,128.5 L388.7,127.8 L390.1,127.2 L391.6,126.6 L393.0,126.0 L394.5,125.4 L395.9,124.9 L397.4,124.4 L398.8,123.9 L400.3,123.5 L401.7,123.1 L403.1,122.7 L404.6,122.3 L406.0,122.0 L407.5,121.6 L408.9,121.3 L410.4,121.1 L411.8,120.8 L413.3,120.6 L414.7,120.4 L416.1,120.2 L417.6,120.0 L419.0,119.9 L420.5,119.8 L421.9,119.7 L423.4,119.6 L424.8,119.5 L426.3,119.5 L427.7,119.4 L429.1,119.4 L430.6,119.4 L432.0,119.5 L433.5,119.5 L434.9,119.6 L436.4,119.6 L437.8,119.7 L439.3,119.8 L440.7,119.9 L442.1,120.1 L443.6,120.2 L445.0,120.4 L446.5,120.5 L447.9,120.7 L449.4,120.9 L450.8,121.1 L452.2,121.3 L453.7,121.6 L455.1,121.8 L456.6,122.0 L458.0,122.3 L459.5,122.6 L460.9,122.8 L462.4,123.1 L463.8,123.4 L465.2,123.7 L466.7,124.0 L468.1,124.3 L469.6,124.6 L471.0,125.0 L472.5,125.3 L473.9,125.6 L475.4,126.0 L476.8,126.3 L478.2,126.6 L479.7,127.0 L481.1,127.3 L482.6,127.7 L484.0,128.0 L485.5,128.4 L486.9,128.7 L488.4,129.1 L489.8,129.4 L491.2,129.8 L492.7,130.1 L494.1,130.5 L495.6,130.8 L497.0,131.2 L498.5,131.5 L499.9,131.9 L501.4,132.2 L502.8,132.5" stroke="#fff" stroke-opacity="0.55" stroke-width="2.6" fill="none"/>
<path d="M303.5,153.5 L304.9,153.5 L306.4,153.6 L307.8,153.6 L309.3,153.7 L310.7,153.9 L312.2,154.0 L313.6,154.2 L315.1,154.4 L316.5,154.7 L317.9,154.9 L319.4,155.2 L320.8,155.5 L322.3,155.8 L323.7,156.1 L325.2,156.4 L326.6,156.7 L328.1,157.0 L329.5,157.2 L330.9,157.5 L332.4,157.8 L333.8,158.0 L335.3,158.2 L336.7,158.4 L338.2,158.6 L339.6,158.7 L341.0,158.9 L342.5,158.9 L343.9,159.0 L345.4,159.0 L346.8,158.9 L348.3,158.8 L349.7,158.7 L351.2,158.5 L352.6,158.2 L354.0,157.9 L355.5,157.6 L356.9,157.2 L358.4,156.7 L359.8,156.3 L361.3,155.8 L362.7,155.2 L364.2,154.7 L365.6,154.1 L367.0,153.5 L368.5,152.9 L369.9,152.2 L371.4,151.6 L372.8,150.9 L374.3,150.2 L375.7,149.5 L377.2,148.8 L378.6,148.1 L380.0,147.4 L381.5,146.8 L382.9,146.1 L384.4,145.4 L385.8,144.8 L387.3,144.1 L388.7,143.5 L390.1,142.9 L391.6,142.3 L393.0,141.8 L394.5,141.2 L395.9,140.7 L397.4,140.3 L398.8,139.8 L400.3,139.4 L401.7,139.0 L403.1,138.6 L404.6,138.2 L406.0,137.9 L407.5,137.6 L408.9,137.3 L410.4,137.0 L411.8,136.7 L413.3,136.5 L414.7,136.3 L416.1,136.1 L417.6,135.9 L419.0,135.8 L420.5,135.6 L421.9,135.5 L423.4,135.4 L424.8,135.3 L426.3,135.3 L427.7,135.3 L429.1,135.2 L430.6,135.2 L432.0,135.3 L433.5,135.3 L434.9,135.4 L436.4,135.4 L437.8,135.5 L439.3,135.6 L440.7,135.7 L442.1,135.9 L443.6,136.0 L445.0,136.2 L446.5,136.4 L447.9,136.6 L449.4,136.8 L450.8,137.1 L452.2,137.3 L453.7,137.6 L455.1,137.9 L456.6,138.2 L458.0,138.5 L459.5,138.8 L460.9,139.1 L462.4,139.5 L463.8,139.9 L465.2,140.2 L466.7,140.6 L468.1,141.0 L469.6,141.5 L471.0,141.9 L472.5,142.3 L473.9,142.8 L475.4,143.3 L476.8,143.7 L478.2,144.2 L479.7,144.7 L481.1,145.2 L482.6,145.7 L484.0,146.3 L485.5,146.8 L486.9,147.4 L488.4,147.9 L489.8,148.5 L491.2,149.1 L492.7,149.7 L494.1,150.3 L495.6,150.9 L497.0,151.5 L498.5,152.1 L499.9,152.7 L501.4,153.4 L502.8,154.0" stroke="#fff" stroke-opacity="0.55" stroke-width="2.6" fill="none"/>
<path d="M303.5,101.4 L303.5,128.1 M502.8,79.7 L502.8,103.3" stroke="#6aae4c" stroke-width="1" fill="none" style="mix-blend-mode:multiply"/>
<path d="M303.5,101.4 L304.9,104.1 L306.4,106.9 L307.8,109.6 L309.3,112.3 L310.7,115.0 L312.2,117.6 L313.6,120.1 L315.1,122.6 L316.5,125.0 L317.9,127.3 L319.4,129.5 L320.8,131.6 L322.3,133.6 L323.7,135.4 L325.2,137.1 L326.6,138.7 L328.1,140.1 L329.5,141.3 L330.9,142.3 L332.4,143.2 L333.8,143.9 L335.3,144.3 L336.7,144.5 L338.2,144.5 L339.6,144.3 L341.0,143.8 L342.5,143.0 L343.9,142.0 L345.4,140.8 L346.8,139.3 L348.3,137.6 L349.7,135.7 L351.2,133.7 L352.6,131.4 L354.0,129.0 L355.5,126.5 L356.9,123.9 L358.4,121.3 L359.8,118.7 L361.3,116.2 L362.7,113.8 L364.2,111.4 L365.6,109.1 L367.0,106.9 L368.5,104.7 L369.9,102.5 L371.4,100.4 L372.8,98.3 L374.3,96.2 L375.7,94.1 L377.2,92.0 L378.6,90.0 L380.0,87.9 L381.5,85.8 L382.9,83.7 L384.4,81.6 L385.8,79.5 L387.3,77.3 L388.7,75.1 L390.1,72.9 L391.6,70.7 L393.0,68.4 L394.5,66.1 L395.9,63.8 L397.4,61.4 L398.8,59.1 L400.3,56.7 L401.7,54.4 L403.1,52.0 L404.6,49.7 L406.0,47.5 L407.5,45.3 L408.9,43.3 L410.4,41.4 L411.8,39.7 L413.3,38.1 L414.7,36.8 L416.1,35.7 L417.6,34.8 L419.0,34.2 L420.5,33.7 L421.9,33.5 L423.4,33.4 L424.8,33.3 L426.3,33.4 L427.7,33.4 L429.1,33.5 L430.6,33.6 L432.0,33.7 L433.5,33.8 L434.9,33.9 L436.4,34.0 L437.8,34.1 L439.3,34.3 L440.7,34.4 L442.1,34.5 L443.6,34.6 L445.0,34.7 L446.5,34.7 L447.9,34.8 L449.4,34.9 L450.8,34.9 L452.2,34.9 L453.7,34.9 L455.1,34.9 L456.6,34.8 L458.0,34.7 L459.5,34.6 L460.9,34.5 L462.4,34.4 L463.8,34.3 L465.2,34.3 L466.7,34.3 L468.1,34.4 L469.6,34.5 L471.0,34.8 L472.5,35.2 L473.9,35.7 L475.4,36.4 L476.8,37.2 L478.2,38.2 L479.7,39.4 L481.1,40.8 L482.6,42.4 L484.0,44.3 L485.5,46.4 L486.9,48.8 L488.4,51.4 L489.8,54.3 L491.2,57.3 L492.7,60.4 L494.1,63.5 L495.6,66.7 L497.0,69.7 L498.5,72.6 L499.9,75.3 L501.4,77.7 L502.8,79.7" stroke="#6aae4c" stroke-width="1.1" fill="none" style="mix-blend-mode:multiply"/>
<path d="M303.5,128.1 L304.9,129.5 L306.4,131.1 L307.8,132.8 L309.3,134.7 L310.7,136.7 L312.2,138.8 L313.6,140.9 L315.1,143.1 L316.5,145.4 L317.9,147.6 L319.4,149.8 L320.8,152.0 L322.3,154.1 L323.7,156.1 L325.2,158.0 L326.6,159.8 L328.1,161.4 L329.5,162.9 L330.9,164.2 L332.4,165.3 L333.8,166.3 L335.3,167.0 L336.7,167.5 L338.2,167.8 L339.6,167.8 L341.0,167.6 L342.5,167.1 L343.9,166.3 L345.4,165.2 L346.8,164.0 L348.3,162.4 L349.7,160.7 L351.2,158.8 L352.6,156.7 L354.0,154.5 L355.5,152.1 L356.9,149.7 L358.4,147.2 L359.8,144.7 L361.3,142.2 L362.7,139.7 L364.2,137.2 L365.6,134.8 L367.0,132.5 L368.5,130.1 L369.9,127.8 L371.4,125.4 L372.8,123.1 L374.3,120.7 L375.7,118.2 L377.2,115.8 L378.6,113.2 L380.0,110.7 L381.5,108.1 L382.9,105.5 L384.4,103.0 L385.8,100.5 L387.3,98.0 L388.7,95.5 L390.1,93.1 L391.6,90.7 L393.0,88.4 L394.5,86.1 L395.9,83.8 L397.4,81.6 L398.8,79.4 L400.3,77.2 L401.7,75.1 L403.1,73.0 L404.6,71.0 L406.0,69.1 L407.5,67.2 L408.9,65.5 L410.4,63.9 L411.8,62.4 L413.3,61.1 L414.7,59.9 L416.1,58.8 L417.6,57.8 L419.0,57.0 L420.5,56.3 L421.9,55.7 L423.4,55.3 L424.8,55.1 L426.3,55.0 L427.7,55.0 L429.1,55.2 L430.6,55.5 L432.0,56.0 L433.5,56.5 L434.9,57.0 L436.4,57.5 L437.8,57.9 L439.3,58.2 L440.7,58.5 L442.1,58.7 L443.6,58.8 L445.0,58.9 L446.5,59.0 L447.9,58.9 L449.4,58.9 L450.8,58.8 L452.2,58.7 L453.7,58.6 L455.1,58.5 L456.6,58.3 L458.0,58.1 L459.5,58.0 L460.9,57.8 L462.4,57.7 L463.8,57.6 L465.2,57.6 L466.7,57.6 L468.1,57.6 L469.6,57.8 L471.0,58.1 L472.5,58.5 L473.9,59.0 L475.4,59.6 L476.8,60.4 L478.2,61.4 L479.7,62.6 L481.1,63.9 L482.6,65.5 L484.0,67.2 L485.5,69.2 L486.9,71.4 L488.4,73.7 L489.8,76.2 L491.2,78.8 L492.7,81.5 L494.1,84.4 L495.6,87.4 L497.0,90.4 L498.5,93.6 L499.9,96.8 L501.4,100.0 L502.8,103.3" stroke="#6aae4c" stroke-width="1.1" fill="none" style="mix-blend-mode:multiply"/>
<path d="M303.5,116.1 L304.9,118.4 L306.4,120.7 L307.8,123.0 L309.3,125.3 L310.7,127.7 L312.2,130.0 L313.6,132.2 L315.1,134.5 L316.5,136.6 L317.9,138.8 L319.4,140.8 L320.8,142.8 L322.3,144.6 L323.7,146.4 L325.2,148.0 L326.6,149.5 L328.1,150.9 L329.5,152.1 L330.9,153.1 L332.4,154.0 L333.8,154.7 L335.3,155.2 L336.7,155.5 L338.2,155.6 L339.6,155.4 L341.0,155.1 L342.5,154.4 L343.9,153.6 L345.4,152.5 L346.8,151.2 L348.3,149.7 L349.7,148.0 L351.2,146.2 L352.6,144.3 L354.0,142.2 L355.5,140.0 L356.9,137.7 L358.4,135.4 L359.8,133.0 L361.3,130.5 L362.7,128.1 L364.2,125.5 L365.6,123.0 L367.0,120.5 L368.5,118.0 L369.9,115.6 L371.4,113.1 L372.8,110.7 L374.3,108.3 L375.7,106.0 L377.2,103.6 L378.6,101.3 L380.0,99.0 L381.5,96.7 L382.9,94.4 L384.4,92.1 L385.8,89.9 L387.3,87.6 L388.7,85.4 L390.1,83.1 L391.6,80.9 L393.0,78.6 L394.5,76.4 L395.9,74.2 L397.4,71.9 L398.8,69.7 L400.3,67.4 L401.7,65.2 L403.1,62.9 L404.6,60.7 L406.0,58.4 L407.5,56.2 L408.9,54.1 L410.4,52.0 L411.8,50.2 L413.3,48.5 L414.7,47.2 L416.1,46.1 L417.6,45.3 L419.0,44.7 L420.5,44.3 L421.9,44.1 L423.4,44.0 L424.8,43.9 L426.3,44.0 L427.7,44.2 L429.1,44.4 L430.6,44.6 L432.0,44.9 L433.5,45.3 L434.9,45.6 L436.4,46.0 L437.8,46.3 L439.3,46.7 L440.7,47.0 L442.1,47.2 L443.6,47.5 L445.0,47.6 L446.5,47.7 L447.9,47.7 L449.4,47.6 L450.8,47.5 L452.2,47.2 L453.7,47.0 L455.1,46.7 L456.6,46.4 L458.0,46.1 L459.5,45.8 L460.9,45.5 L462.4,45.3 L463.8,45.1 L465.2,45.0 L466.7,45.0 L468.1,45.0 L469.6,45.2 L471.0,45.5 L472.5,45.9 L473.9,46.6 L475.4,47.4 L476.8,48.5 L478.2,49.8 L479.7,51.3 L481.1,53.0 L482.6,54.9 L484.0,57.0 L485.5,59.3 L486.9,61.6 L488.4,64.1 L489.8,66.6 L491.2,69.2 L492.7,71.9 L494.1,74.6 L495.6,77.3 L497.0,80.0 L498.5,82.8 L499.9,85.4 L501.4,88.1 L502.8,90.6" stroke="#6aae4c" stroke-width="0.95" fill="none" opacity="0.75" style="mix-blend-mode:multiply"/>
<path d="M303.5,108.9 L303.5,140.8 M502.8,80.4 L502.8,111.4" stroke="#3b5891" stroke-width="1" fill="none" style="mix-blend-mode:multiply"/>
<path d="M303.5,108.9 L304.9,111.3 L306.4,113.7 L307.8,116.1 L309.3,118.4 L310.7,120.7 L312.2,123.0 L313.6,125.3 L315.1,127.5 L316.5,129.6 L317.9,131.7 L319.4,133.7 L320.8,135.6 L322.3,137.5 L323.7,139.2 L325.2,140.8 L326.6,142.3 L328.1,143.7 L329.5,145.0 L330.9,146.1 L332.4,147.0 L333.8,147.8 L335.3,148.4 L336.7,148.8 L338.2,148.9 L339.6,148.9 L341.0,148.7 L342.5,148.2 L343.9,147.5 L345.4,146.5 L346.8,145.3 L348.3,143.9 L349.7,142.3 L351.2,140.4 L352.6,138.2 L354.0,135.9 L355.5,133.3 L356.9,130.6 L358.4,127.6 L359.8,124.5 L361.3,121.2 L362.7,117.9 L364.2,114.4 L365.6,110.9 L367.0,107.3 L368.5,103.7 L369.9,100.2 L371.4,96.6 L372.8,93.1 L374.3,89.8 L375.7,86.5 L377.2,83.3 L378.6,80.2 L380.0,77.2 L381.5,74.4 L382.9,71.6 L384.4,68.9 L385.8,66.4 L387.3,64.0 L388.7,61.6 L390.1,59.4 L391.6,57.2 L393.0,55.2 L394.5,53.3 L395.9,51.5 L397.4,49.7 L398.8,48.1 L400.3,46.6 L401.7,45.2 L403.1,43.8 L404.6,42.6 L406.0,41.5 L407.5,40.5 L408.9,39.6 L410.4,38.8 L411.8,38.0 L413.3,37.4 L414.7,36.9 L416.1,36.5 L417.6,36.2 L419.0,35.9 L420.5,35.8 L421.9,35.8 L423.4,35.9 L424.8,36.1 L426.3,36.3 L427.7,36.7 L429.1,37.2 L430.6,37.7 L432.0,38.4 L433.5,39.1 L434.9,39.9 L436.4,40.8 L437.8,41.7 L439.3,42.6 L440.7,43.6 L442.1,44.6 L443.6,45.7 L445.0,46.7 L446.5,47.7 L447.9,48.8 L449.4,49.8 L450.8,50.7 L452.2,51.7 L453.7,52.5 L455.1,53.4 L456.6,54.1 L458.0,54.8 L459.5,55.4 L460.9,55.9 L462.4,56.3 L463.8,56.6 L465.2,56.9 L466.7,57.2 L468.1,57.4 L469.6,57.6 L471.0,57.8 L472.5,57.9 L473.9,58.1 L475.4,58.4 L476.8,58.6 L478.2,58.9 L479.7,59.3 L481.1,59.8 L482.6,60.3 L484.0,61.0 L485.5,61.7 L486.9,62.6 L488.4,63.6 L489.8,64.7 L491.2,66.0 L492.7,67.3 L494.1,68.8 L495.6,70.4 L497.0,72.2 L498.5,74.0 L499.9,76.0 L501.4,78.1 L502.8,80.4" stroke="#3b5891" stroke-width="1.1" fill="none" style="mix-blend-mode:multiply"/>
<path d="M303.5,140.8 L304.9,140.7 L306.4,141.3 L307.8,142.5 L309.3,144.1 L310.7,146.2 L312.2,148.5 L313.6,151.1 L315.1,153.8 L316.5,156.5 L317.9,159.1 L319.4,161.5 L320.8,163.8 L322.3,165.9 L323.7,167.9 L325.2,169.7 L326.6,171.3 L328.1,172.8 L329.5,174.0 L330.9,175.1 L332.4,176.0 L333.8,176.7 L335.3,177.1 L336.7,177.4 L338.2,177.5 L339.6,177.4 L341.0,177.0 L342.5,176.4 L343.9,175.5 L345.4,174.4 L346.8,173.0 L348.3,171.3 L349.7,169.4 L351.2,167.1 L352.6,164.6 L354.0,162.0 L355.5,159.1 L356.9,156.2 L358.4,153.2 L359.8,150.2 L361.3,147.1 L362.7,143.9 L364.2,140.8 L365.6,137.6 L367.0,134.4 L368.5,131.2 L369.9,128.0 L371.4,124.8 L372.8,121.6 L374.3,118.5 L375.7,115.4 L377.2,112.3 L378.6,109.3 L380.0,106.4 L381.5,103.5 L382.9,100.7 L384.4,98.0 L385.8,95.4 L387.3,92.8 L388.7,90.4 L390.1,88.1 L391.6,85.9 L393.0,83.8 L394.5,81.8 L395.9,80.0 L397.4,78.2 L398.8,76.6 L400.3,75.0 L401.7,73.6 L403.1,72.2 L404.6,71.0 L406.0,69.9 L407.5,68.9 L408.9,68.0 L410.4,67.2 L411.8,66.5 L413.3,65.9 L414.7,65.4 L416.1,65.0 L417.6,64.7 L419.0,64.5 L420.5,64.4 L421.9,64.3 L423.4,64.4 L424.8,64.5 L426.3,64.8 L427.7,65.1 L429.1,65.5 L430.6,65.9 L432.0,66.4 L433.5,67.1 L434.9,67.7 L436.4,68.5 L437.8,69.3 L439.3,70.1 L440.7,71.0 L442.1,72.0 L443.6,73.0 L445.0,74.1 L446.5,75.1 L447.9,76.2 L449.4,77.2 L450.8,78.3 L452.2,79.3 L453.7,80.2 L455.1,81.1 L456.6,81.9 L458.0,82.7 L459.5,83.3 L460.9,83.9 L462.4,84.3 L463.8,84.7 L465.2,85.0 L466.7,85.2 L468.1,85.4 L469.6,85.6 L471.0,85.8 L472.5,86.0 L473.9,86.3 L475.4,86.5 L476.8,86.8 L478.2,87.1 L479.7,87.5 L481.1,88.0 L482.6,88.6 L484.0,89.2 L485.5,90.0 L486.9,90.8 L488.4,91.8 L489.8,93.0 L491.2,94.3 L492.7,95.7 L494.1,97.4 L495.6,99.2 L497.0,101.2 L498.5,103.4 L499.9,105.8 L501.4,108.5 L502.8,111.4" stroke="#3b5891" stroke-width="1.1" fill="none" style="mix-blend-mode:multiply"/>
<path d="M303.5,125.1 L304.9,125.1 L306.4,125.6 L307.8,126.3 L309.3,127.3 L310.7,128.6 L312.2,130.1 L313.6,131.8 L315.1,133.6 L316.5,135.6 L317.9,137.8 L319.4,140.0 L320.8,142.2 L322.3,144.5 L323.7,146.8 L325.2,149.1 L326.6,151.3 L328.1,153.4 L329.5,155.4 L330.9,157.3 L332.4,159.0 L333.8,160.5 L335.3,161.8 L336.7,162.8 L338.2,163.5 L339.6,164.0 L341.0,164.0 L342.5,163.8 L343.9,163.2 L345.4,162.2 L346.8,161.0 L348.3,159.4 L349.7,157.6 L351.2,155.5 L352.6,153.1 L354.0,150.6 L355.5,147.8 L356.9,144.8 L358.4,141.6 L359.8,138.3 L361.3,134.8 L362.7,131.2 L364.2,127.6 L365.6,123.8 L367.0,120.1 L368.5,116.3 L369.9,112.6 L371.4,108.9 L372.8,105.4 L374.3,101.9 L375.7,98.7 L377.2,95.6 L378.6,92.7 L380.0,90.0 L381.5,87.6 L382.9,85.4 L384.4,83.3 L385.8,81.3 L387.3,79.4 L388.7,77.6 L390.1,75.8 L391.6,74.0 L393.0,72.1 L394.5,70.2 L395.9,68.2 L397.4,66.1 L398.8,64.1 L400.3,62.2 L401.7,60.4 L403.1,58.8 L404.6,57.3 L406.0,55.9 L407.5,54.7 L408.9,53.6 L410.4,52.6 L411.8,51.8 L413.3,51.0 L414.7,50.4 L416.1,49.8 L417.6,49.4 L419.0,49.2 L420.5,49.0 L421.9,49.0 L423.4,49.1 L424.8,49.3 L426.3,49.7 L427.7,50.2 L429.1,50.8 L430.6,51.6 L432.0,52.4 L433.5,53.4 L434.9,54.5 L436.4,55.6 L437.8,56.8 L439.3,57.9 L440.7,59.1 L442.1,60.2 L443.6,61.4 L445.0,62.4 L446.5,63.4 L447.9,64.4 L449.4,65.3 L450.8,66.2 L452.2,66.9 L453.7,67.7 L455.1,68.3 L456.6,68.9 L458.0,69.4 L459.5,69.8 L460.9,70.2 L462.4,70.4 L463.8,70.7 L465.2,70.8 L466.7,71.0 L468.1,71.1 L469.6,71.2 L471.0,71.3 L472.5,71.5 L473.9,71.6 L475.4,71.9 L476.8,72.2 L478.2,72.5 L479.7,73.0 L481.1,73.5 L482.6,74.2 L484.0,75.0 L485.5,75.9 L486.9,77.0 L488.4,78.2 L489.8,79.6 L491.2,81.1 L492.7,82.6 L494.1,84.3 L495.6,86.1 L497.0,88.0 L498.5,90.0 L499.9,92.1 L501.4,94.3 L502.8,96.5" stroke="#3b5891" stroke-width="0.95" fill="none" opacity="0.75" style="mix-blend-mode:multiply"/>
<path d="M303.5,110.5 L303.5,153.5 M502.8,111.3 L502.8,154.0" stroke="#b0264c" stroke-width="1" fill="none" style="mix-blend-mode:multiply"/>
<path d="M303.5,110.5 L304.9,111.7 L306.4,112.8 L307.8,113.9 L309.3,114.9 L310.7,115.9 L312.2,116.8 L313.6,117.7 L315.1,118.5 L316.5,119.3 L317.9,120.0 L319.4,120.7 L320.8,121.3 L322.3,121.8 L323.7,122.4 L325.2,122.8 L326.6,123.3 L328.1,123.6 L329.5,124.0 L330.9,124.3 L332.4,124.5 L333.8,124.7 L335.3,124.9 L336.7,125.0 L338.2,125.1 L339.6,125.1 L341.0,125.1 L342.5,125.1 L343.9,125.0 L345.4,124.9 L346.8,124.7 L348.3,124.5 L349.7,124.3 L351.2,124.1 L352.6,123.8 L354.0,123.5 L355.5,123.2 L356.9,122.8 L358.4,122.4 L359.8,122.0 L361.3,121.6 L362.7,121.1 L364.2,120.7 L365.6,120.2 L367.0,119.7 L368.5,119.2 L369.9,118.7 L371.4,118.2 L372.8,117.6 L374.3,117.1 L375.7,116.5 L377.2,116.0 L378.6,115.4 L380.0,114.9 L381.5,114.3 L382.9,113.8 L384.4,113.2 L385.8,112.7 L387.3,112.1 L388.7,111.6 L390.1,111.0 L391.6,110.5 L393.0,110.0 L394.5,109.5 L395.9,109.0 L397.4,108.6 L398.8,108.1 L400.3,107.7 L401.7,107.2 L403.1,106.8 L404.6,106.4 L406.0,106.0 L407.5,105.6 L408.9,105.3 L410.4,104.9 L411.8,104.6 L413.3,104.3 L414.7,104.0 L416.1,103.7 L417.6,103.4 L419.0,103.1 L420.5,102.9 L421.9,102.7 L423.4,102.5 L424.8,102.3 L426.3,102.1 L427.7,102.0 L429.1,101.9 L430.6,101.8 L432.0,101.7 L433.5,101.6 L434.9,101.6 L436.4,101.5 L437.8,101.5 L439.3,101.6 L440.7,101.6 L442.1,101.7 L443.6,101.8 L445.0,101.9 L446.5,102.0 L447.9,102.1 L449.4,102.3 L450.8,102.5 L452.2,102.7 L453.7,102.9 L455.1,103.1 L456.6,103.4 L458.0,103.6 L459.5,103.9 L460.9,104.2 L462.4,104.5 L463.8,104.7 L465.2,105.0 L466.7,105.3 L468.1,105.7 L469.6,106.0 L471.0,106.3 L472.5,106.6 L473.9,106.9 L475.4,107.2 L476.8,107.5 L478.2,107.8 L479.7,108.1 L481.1,108.4 L482.6,108.7 L484.0,108.9 L485.5,109.2 L486.9,109.5 L488.4,109.7 L489.8,109.9 L491.2,110.2 L492.7,110.4 L494.1,110.5 L495.6,110.7 L497.0,110.9 L498.5,111.0 L499.9,111.1 L501.4,111.2 L502.8,111.3" stroke="#b0264c" stroke-width="1.1" fill="none" style="mix-blend-mode:multiply"/>
<path d="M303.5,153.5 L304.9,153.5 L306.4,153.6 L307.8,153.6 L309.3,153.7 L310.7,153.9 L312.2,154.0 L313.6,154.2 L315.1,154.4 L316.5,154.7 L317.9,154.9 L319.4,155.2 L320.8,155.5 L322.3,155.8 L323.7,156.1 L325.2,156.4 L326.6,156.7 L328.1,157.0 L329.5,157.2 L330.9,157.5 L332.4,157.8 L333.8,158.0 L335.3,158.2 L336.7,158.4 L338.2,158.6 L339.6,158.7 L341.0,158.9 L342.5,158.9 L343.9,159.0 L345.4,159.0 L346.8,158.9 L348.3,158.8 L349.7,158.7 L351.2,158.5 L352.6,158.2 L354.0,157.9 L355.5,157.6 L356.9,157.2 L358.4,156.7 L359.8,156.3 L361.3,155.8 L362.7,155.2 L364.2,154.7 L365.6,154.1 L367.0,153.5 L368.5,152.9 L369.9,152.2 L371.4,151.6 L372.8,150.9 L374.3,150.2 L375.7,149.5 L377.2,148.8 L378.6,148.1 L380.0,147.4 L381.5,146.8 L382.9,146.1 L384.4,145.4 L385.8,144.8 L387.3,144.1 L388.7,143.5 L390.1,142.9 L391.6,142.3 L393.0,141.8 L394.5,141.2 L395.9,140.7 L397.4,140.3 L398.8,139.8 L400.3,139.4 L401.7,139.0 L403.1,138.6 L404.6,138.2 L406.0,137.9 L407.5,137.6 L408.9,137.3 L410.4,137.0 L411.8,136.7 L413.3,136.5 L414.7,136.3 L416.1,136.1 L417.6,135.9 L419.0,135.8 L420.5,135.6 L421.9,135.5 L423.4,135.4 L424.8,135.3 L426.3,135.3 L427.7,135.3 L429.1,135.2 L430.6,135.2 L432.0,135.3 L433.5,135.3 L434.9,135.4 L436.4,135.4 L437.8,135.5 L439.3,135.6 L440.7,135.7 L442.1,135.9 L443.6,136.0 L445.0,136.2 L446.5,136.4 L447.9,136.6 L449.4,136.8 L450.8,137.1 L452.2,137.3 L453.7,137.6 L455.1,137.9 L456.6,138.2 L458.0,138.5 L459.5,138.8 L460.9,139.1 L462.4,139.5 L463.8,139.9 L465.2,140.2 L466.7,140.6 L468.1,141.0 L469.6,141.5 L471.0,141.9 L472.5,142.3 L473.9,142.8 L475.4,143.3 L476.8,143.7 L478.2,144.2 L479.7,144.7 L481.1,145.2 L482.6,145.7 L484.0,146.3 L485.5,146.8 L486.9,147.4 L488.4,147.9 L489.8,148.5 L491.2,149.1 L492.7,149.7 L494.1,150.3 L495.6,150.9 L497.0,151.5 L498.5,152.1 L499.9,152.7 L501.4,153.4 L502.8,154.0" stroke="#b0264c" stroke-width="1.1" fill="none" style="mix-blend-mode:multiply"/>
<path d="M303.5,132.2 L304.9,132.8 L306.4,133.4 L307.8,134.0 L309.3,134.6 L310.7,135.1 L312.2,135.7 L313.6,136.2 L315.1,136.7 L316.5,137.2 L317.9,137.7 L319.4,138.2 L320.8,138.6 L322.3,139.1 L323.7,139.5 L325.2,139.9 L326.6,140.2 L328.1,140.6 L329.5,140.9 L330.9,141.2 L332.4,141.4 L333.8,141.7 L335.3,141.9 L336.7,142.1 L338.2,142.2 L339.6,142.3 L341.0,142.4 L342.5,142.5 L343.9,142.5 L345.4,142.5 L346.8,142.5 L348.3,142.4 L349.7,142.3 L351.2,142.2 L352.6,142.0 L354.0,141.8 L355.5,141.6 L356.9,141.3 L358.4,141.0 L359.8,140.6 L361.3,140.2 L362.7,139.8 L364.2,139.3 L365.6,138.8 L367.0,138.2 L368.5,137.6 L369.9,137.0 L371.4,136.3 L372.8,135.6 L374.3,134.9 L375.7,134.2 L377.2,133.5 L378.6,132.8 L380.0,132.1 L381.5,131.3 L382.9,130.6 L384.4,129.9 L385.8,129.2 L387.3,128.5 L388.7,127.8 L390.1,127.2 L391.6,126.6 L393.0,126.0 L394.5,125.4 L395.9,124.9 L397.4,124.4 L398.8,123.9 L400.3,123.5 L401.7,123.1 L403.1,122.7 L404.6,122.3 L406.0,122.0 L407.5,121.6 L408.9,121.3 L410.4,121.1 L411.8,120.8 L413.3,120.6 L414.7,120.4 L416.1,120.2 L417.6,120.0 L419.0,119.9 L420.5,119.8 L421.9,119.7 L423.4,119.6 L424.8,119.5 L426.3,119.5 L427.7,119.4 L429.1,119.4 L430.6,119.4 L432.0,119.5 L433.5,119.5 L434.9,119.6 L436.4,119.6 L437.8,119.7 L439.3,119.8 L440.7,119.9 L442.1,120.1 L443.6,120.2 L445.0,120.4 L446.5,120.5 L447.9,120.7 L449.4,120.9 L450.8,121.1 L452.2,121.3 L453.7,121.6 L455.1,121.8 L456.6,122.0 L458.0,122.3 L459.5,122.6 L460.9,122.8 L462.4,123.1 L463.8,123.4 L465.2,123.7 L466.7,124.0 L468.1,124.3 L469.6,124.6 L471.0,125.0 L472.5,125.3 L473.9,125.6 L475.4,126.0 L476.8,126.3 L478.2,126.6 L479.7,127.0 L481.1,127.3 L482.6,127.7 L484.0,128.0 L485.5,128.4 L486.9,128.7 L488.4,129.1 L489.8,129.4 L491.2,129.8 L492.7,130.1 L494.1,130.5 L495.6,130.8 L497.0,131.2 L498.5,131.5 L499.9,131.9 L501.4,132.2 L502.8,132.5" stroke="#b0264c" stroke-width="0.95" fill="none" opacity="0.75" style="mix-blend-mode:multiply"/>
<path d="M293.5,26.3 L293.5,184.0 L512.7,184.0" stroke="#1a1a1a" stroke-width="1.3" fill="none"/>
<path d="M291.1,136.50 L293.5,136.50" stroke="#1a1a1a" stroke-width="1"/>
<text transform="translate(288.00,138.90) scale(0.9300,1)" x="0" y="0" font-size="6.6" text-anchor="end" fill="#1c1c1c" stroke="#1c1c1c" stroke-width="0.1">100</text>
<path d="M291.1,84.60 L293.5,84.60" stroke="#1a1a1a" stroke-width="1"/>
<text transform="translate(288.00,87.00) scale(0.9300,1)" x="0" y="0" font-size="6.6" text-anchor="end" fill="#1c1c1c" stroke="#1c1c1c" stroke-width="0.1">200</text>
<path d="M291.1,32.70 L293.5,32.70" stroke="#1a1a1a" stroke-width="1"/>
<text transform="translate(288.00,35.10) scale(0.9300,1)" x="0" y="0" font-size="6.6" text-anchor="end" fill="#1c1c1c" stroke="#1c1c1c" stroke-width="0.1">300</text>
<path d="M303.50,184.0 L303.50,187.4" stroke="#1a1a1a" stroke-width="1"/>
<text transform="translate(303.50,195.80) scale(0.9500,1)" x="0" y="0" font-size="6.6" text-anchor="middle" fill="#1c1c1c" stroke="#1c1c1c" stroke-width="0.1">0</text>
<path d="M312.17,184.0 L312.17,187.4" stroke="#1a1a1a" stroke-width="1"/>
<text transform="translate(312.17,195.80) scale(0.9500,1)" x="0" y="0" font-size="6.6" text-anchor="middle" fill="#1c1c1c" stroke="#1c1c1c" stroke-width="0.1">1</text>
<path d="M320.83,184.0 L320.83,187.4" stroke="#1a1a1a" stroke-width="1"/>
<text transform="translate(320.83,195.80) scale(0.9500,1)" x="0" y="0" font-size="6.6" text-anchor="middle" fill="#1c1c1c" stroke="#1c1c1c" stroke-width="0.1">2</text>
<path d="M329.50,184.0 L329.50,187.4" stroke="#1a1a1a" stroke-width="1"/>
<text transform="translate(329.50,195.80) scale(0.9500,1)" x="0" y="0" font-size="6.6" text-anchor="middle" fill="#1c1c1c" stroke="#1c1c1c" stroke-width="0.1">3</text>
<path d="M338.16,184.0 L338.16,187.4" stroke="#1a1a1a" stroke-width="1"/>
<text transform="translate(338.16,195.80) scale(0.9500,1)" x="0" y="0" font-size="6.6" text-anchor="middle" fill="#1c1c1c" stroke="#1c1c1c" stroke-width="0.1">4</text>
<path d="M346.82,184.0 L346.82,187.4" stroke="#1a1a1a" stroke-width="1"/>
<text transform="translate(346.82,195.80) scale(0.9500,1)" x="0" y="0" font-size="6.6" text-anchor="middle" fill="#1c1c1c" stroke="#1c1c1c" stroke-width="0.1">5</text>
<path d="M355.49,184.0 L355.49,187.4" stroke="#1a1a1a" stroke-width="1"/>
<text transform="translate(355.49,195.80) scale(0.9500,1)" x="0" y="0" font-size="6.6" text-anchor="middle" fill="#1c1c1c" stroke="#1c1c1c" stroke-width="0.1">6</text>
<path d="M364.15,184.0 L364.15,187.4" stroke="#1a1a1a" stroke-width="1"/>
<text transform="translate(364.15,195.80) scale(0.9500,1)" x="0" y="0" font-size="6.6" text-anchor="middle" fill="#1c1c1c" stroke="#1c1c1c" stroke-width="0.1">7</text>
<path d="M372.82,184.0 L372.82,187.4" stroke="#1a1a1a" stroke-width="1"/>
<text transform="translate(372.82,195.80) scale(0.9500,1)" x="0" y="0" font-size="6.6" text-anchor="middle" fill="#1c1c1c" stroke="#1c1c1c" stroke-width="0.1">8</text>
<path d="M381.49,184.0 L381.49,187.4" stroke="#1a1a1a" stroke-width="1"/>
<text transform="translate(381.49,195.80) scale(0.9500,1)" x="0" y="0" font-size="6.6" text-anchor="middle" fill="#1c1c1c" stroke="#1c1c1c" stroke-width="0.1">9</text>
<path d="M390.15,184.0 L390.15,187.4" stroke="#1a1a1a" stroke-width="1"/>
<text transform="translate(390.15,195.80) scale(0.8600,1)" x="0" y="0" font-size="6.6" text-anchor="middle" fill="#1c1c1c" stroke="#1c1c1c" stroke-width="0.1">10</text>
<path d="M398.81,184.0 L398.81,187.4" stroke="#1a1a1a" stroke-width="1"/>
<text transform="translate(398.81,195.80) scale(0.8600,1)" x="0" y="0" font-size="6.6" text-anchor="middle" fill="#1c1c1c" stroke="#1c1c1c" stroke-width="0.1">11</text>
<path d="M407.48,184.0 L407.48,187.4" stroke="#1a1a1a" stroke-width="1"/>
<text transform="translate(407.48,195.80) scale(0.8600,1)" x="0" y="0" font-size="6.6" text-anchor="middle" fill="#1c1c1c" stroke="#1c1c1c" stroke-width="0.1">12</text>
<path d="M416.14,184.0 L416.14,187.4" stroke="#1a1a1a" stroke-width="1"/>
<text transform="translate(416.14,195.80) scale(0.8600,1)" x="0" y="0" font-size="6.6" text-anchor="middle" fill="#1c1c1c" stroke="#1c1c1c" stroke-width="0.1">13</text>
<path d="M424.81,184.0 L424.81,187.4" stroke="#1a1a1a" stroke-width="1"/>
<text transform="translate(424.81,195.80) scale(0.8600,1)" x="0" y="0" font-size="6.6" text-anchor="middle" fill="#1c1c1c" stroke="#1c1c1c" stroke-width="0.1">14</text>
<path d="M433.48,184.0 L433.48,187.4" stroke="#1a1a1a" stroke-width="1"/>
<text transform="translate(433.48,195.80) scale(0.8600,1)" x="0" y="0" font-size="6.6" text-anchor="middle" fill="#1c1c1c" stroke="#1c1c1c" stroke-width="0.1">15</text>
<path d="M442.14,184.0 L442.14,187.4" stroke="#1a1a1a" stroke-width="1"/>
<text transform="translate(442.14,195.80) scale(0.8600,1)" x="0" y="0" font-size="6.6" text-anchor="middle" fill="#1c1c1c" stroke="#1c1c1c" stroke-width="0.1">16</text>
<path d="M450.80,184.0 L450.80,187.4" stroke="#1a1a1a" stroke-width="1"/>
<text transform="translate(450.80,195.80) scale(0.8600,1)" x="0" y="0" font-size="6.6" text-anchor="middle" fill="#1c1c1c" stroke="#1c1c1c" stroke-width="0.1">17</text>
<path d="M459.47,184.0 L459.47,187.4" stroke="#1a1a1a" stroke-width="1"/>
<text transform="translate(459.47,195.80) scale(0.8600,1)" x="0" y="0" font-size="6.6" text-anchor="middle" fill="#1c1c1c" stroke="#1c1c1c" stroke-width="0.1">18</text>
<path d="M468.13,184.0 L468.13,187.4" stroke="#1a1a1a" stroke-width="1"/>
<text transform="translate(468.13,195.80) scale(0.8600,1)" x="0" y="0" font-size="6.6" text-anchor="middle" fill="#1c1c1c" stroke="#1c1c1c" stroke-width="0.1">19</text>
<path d="M476.80,184.0 L476.80,187.4" stroke="#1a1a1a" stroke-width="1"/>
<text transform="translate(476.80,195.80) scale(0.8600,1)" x="0" y="0" font-size="6.6" text-anchor="middle" fill="#1c1c1c" stroke="#1c1c1c" stroke-width="0.1">20</text>
<path d="M485.46,184.0 L485.46,187.4" stroke="#1a1a1a" stroke-width="1"/>
<text transform="translate(485.46,195.80) scale(0.8600,1)" x="0" y="0" font-size="6.6" text-anchor="middle" fill="#1c1c1c" stroke="#1c1c1c" stroke-width="0.1">21</text>
<path d="M494.13,184.0 L494.13,187.4" stroke="#1a1a1a" stroke-width="1"/>
<text transform="translate(494.13,195.80) scale(0.8600,1)" x="0" y="0" font-size="6.6" text-anchor="middle" fill="#1c1c1c" stroke="#1c1c1c" stroke-width="0.1">22</text>
<path d="M502.79,184.0 L502.79,187.4" stroke="#1a1a1a" stroke-width="1"/>
<text transform="translate(502.79,195.80) scale(0.8600,1)" x="0" y="0" font-size="6.6" text-anchor="middle" fill="#1c1c1c" stroke="#1c1c1c" stroke-width="0.1">23</text>
<text transform="translate(380.80,207.30) scale(0.8151,1)" x="0" y="0" font-size="8.2" fill="#1c1c1c" stroke="#1c1c1c" stroke-width="0.12">Hour of the day</text>
<text transform="translate(271.20,102.40) rotate(-90) scale(0.7823,1)" x="0" y="0" font-size="8.8" text-anchor="middle" fill="#1c1c1c" stroke="#1c1c1c" stroke-width="0.12">Average activity (cnts/min)</text>
<text transform="translate(296.50,37.40) scale(0.9542,1)" x="0" y="0" font-size="6.6" fill="#1c1c1c">Day</text>
<rect x="296.70" y="41.80" width="4.80" height="7.50" rx="1" fill="#f0f0f0" stroke="#6aae4c" stroke-width="1.25"/>
<path d="M296.60,45.55 L301.60,45.55" stroke="#6aae4c" stroke-width="1"/>
<rect x="296.70" y="52.50" width="4.80" height="7.50" rx="1" fill="#f0f0f0" stroke="#3b5891" stroke-width="1.25"/>
<path d="M296.60,56.25 L301.60,56.25" stroke="#3b5891" stroke-width="1"/>
<rect x="296.70" y="63.50" width="4.80" height="7.50" rx="1" fill="#f0f0f0" stroke="#b0264c" stroke-width="1.25"/>
<path d="M296.60,67.25 L301.60,67.25" stroke="#b0264c" stroke-width="1"/>
<text transform="translate(305.00,47.60) scale(0.9113,1)" x="0" y="0" font-size="6.9" fill="#1c1c1c">Non–VOCD</text>
<text transform="translate(305.00,58.60) scale(0.9166,1)" x="0" y="0" font-size="6.9" fill="#1c1c1c">Home VOCD</text>
<text transform="translate(305.00,69.20) scale(0.9313,1)" x="0" y="0" font-size="6.9" fill="#1c1c1c">Medical contact VOCD</text>
<text x="7.30" y="233.60" font-size="11.8" font-weight="bold" fill="#000">B</text>
<text transform="translate(25.80,247.70) scale(0.9159,1)" x="0" y="0" font-size="9.6" fill="#1c1c1c" stroke="#1c1c1c" stroke-width="0.15">Daytime Activity During VOC</text>
<text transform="translate(77.00,260.00) scale(0.9457,1)" x="0" y="0" font-size="6.6" font-weight="bold" fill="#111" stroke="#111" stroke-width="0.1">Estimate p–value</text>
<text x="11.30" y="266.25" font-size="6.6" font-weight="bold" fill="#111" stroke="#111" stroke-width="0.1">Average Activity</text>
<text x="15.20" y="273.88" font-size="6.35" fill="#1c1c1c" stroke="#1c1c1c" stroke-width="0.1">Any VOCD</text>
<text transform="translate(117.00,273.88) scale(0.9100,1)" x="0" y="0" font-size="6.8" text-anchor="end" fill="#1c1c1c" stroke="#1c1c1c" stroke-width="0.1">–13.6 (–18.6, –8.3)</text>
<text transform="translate(139.80,273.88) scale(0.9100,1)" x="0" y="0" font-size="6.8" text-anchor="end" fill="#1c1c1c" stroke="#1c1c1c" stroke-width="0.1">&lt;0.001</text>
<path d="M148.01,272.08 L155.48,272.08" stroke="#7c8fb6" stroke-width="1.3"/>
<rect x="149.49" y="269.93" width="4.3" height="4.3" fill="#1e3a76"/>
<text x="15.20" y="281.51" font-size="6.35" fill="#1c1c1c" stroke="#1c1c1c" stroke-width="0.1">Home VOCD</text>
<text transform="translate(117.00,281.51) scale(0.9100,1)" x="0" y="0" font-size="6.8" text-anchor="end" fill="#1c1c1c" stroke="#1c1c1c" stroke-width="0.1">–7.2 (–12.8, –1.3)</text>
<text transform="translate(139.80,281.51) scale(0.9100,1)" x="0" y="0" font-size="6.8" text-anchor="end" fill="#1c1c1c" stroke="#1c1c1c" stroke-width="0.1">0.017</text>
<path d="M152.22,279.71 L160.56,279.71" stroke="#7c8fb6" stroke-width="1.3"/>
<rect x="154.13" y="277.56" width="4.3" height="4.3" fill="#1e3a76"/>
<text transform="translate(11.30,289.14) scale(0.9793,1)" x="0" y="0" font-size="6.6" font-weight="bold" fill="#111" stroke="#111" stroke-width="0.1">Peak Activity</text>
<text x="15.20" y="296.77" font-size="6.35" fill="#1c1c1c" stroke="#1c1c1c" stroke-width="0.1">Any VOCD</text>
<text transform="translate(117.00,296.77) scale(0.9100,1)" x="0" y="0" font-size="6.8" text-anchor="end" fill="#1c1c1c" stroke="#1c1c1c" stroke-width="0.1">–3.7 (–7.9, 0.7)</text>
<text transform="translate(139.80,296.77) scale(0.9100,1)" x="0" y="0" font-size="6.8" text-anchor="end" fill="#1c1c1c" stroke="#1c1c1c" stroke-width="0.1">0.097</text>
<path d="M155.77,294.97 L162.01,294.97" stroke="#7c8fb6" stroke-width="1.3"/>
<rect x="156.67" y="292.82" width="4.3" height="4.3" fill="#1e3a76"/>
<text x="15.20" y="304.40" font-size="6.35" fill="#1c1c1c" stroke="#1c1c1c" stroke-width="0.1">Home VOCD</text>
<text transform="translate(117.00,304.40) scale(0.9100,1)" x="0" y="0" font-size="6.8" text-anchor="end" fill="#1c1c1c" stroke="#1c1c1c" stroke-width="0.1">–1.6 (–6.1, 3.1)</text>
<text transform="translate(139.80,304.40) scale(0.9100,1)" x="0" y="0" font-size="6.8" text-anchor="end" fill="#1c1c1c" stroke="#1c1c1c" stroke-width="0.1">0.491</text>
<path d="M157.08,302.60 L163.75,302.60" stroke="#7c8fb6" stroke-width="1.3"/>
<rect x="158.19" y="300.45" width="4.3" height="4.3" fill="#1e3a76"/>
<text transform="translate(11.30,312.03) scale(0.9426,1)" x="0" y="0" font-size="6.6" font-weight="bold" fill="#111" stroke="#111" stroke-width="0.1">Total Rest Time</text>
<text x="15.20" y="319.66" font-size="6.35" fill="#1c1c1c" stroke="#1c1c1c" stroke-width="0.1">Any VOCD</text>
<text transform="translate(117.00,319.66) scale(0.9100,1)" x="0" y="0" font-size="6.8" text-anchor="end" fill="#1c1c1c" stroke="#1c1c1c" stroke-width="0.1">30.6 (15.7, 47.4)</text>
<text transform="translate(139.80,319.66) scale(0.9100,1)" x="0" y="0" font-size="6.8" text-anchor="end" fill="#1c1c1c" stroke="#1c1c1c" stroke-width="0.1">&lt;0.001</text>
<path d="M172.88,317.86 L195.87,317.86" stroke="#7c8fb6" stroke-width="1.3"/>
<rect x="181.53" y="315.71" width="4.3" height="4.3" fill="#1e3a76"/>
<text x="15.20" y="327.29" font-size="6.35" fill="#1c1c1c" stroke="#1c1c1c" stroke-width="0.1">Home VOCD</text>
<text transform="translate(117.00,327.29) scale(0.9100,1)" x="0" y="0" font-size="6.8" text-anchor="end" fill="#1c1c1c" stroke="#1c1c1c" stroke-width="0.1">22.8 (7.8, 39.9)</text>
<text transform="translate(139.80,327.29) scale(0.9100,1)" x="0" y="0" font-size="6.8" text-anchor="end" fill="#1c1c1c" stroke="#1c1c1c" stroke-width="0.1">0.002</text>
<path d="M167.16,325.49 L190.43,325.49" stroke="#7c8fb6" stroke-width="1.3"/>
<rect x="175.88" y="323.34" width="4.3" height="4.3" fill="#1e3a76"/>
<path d="M161.5,256.2 L161.5,331.5" stroke="#1a1a1a" stroke-width="1.2"/>
<path d="M144.5,331.5 L207.6,331.5" stroke="#1a1a1a" stroke-width="1.3"/>
<path d="M147.00,331.5 L147.00,334.9" stroke="#1a1a1a" stroke-width="1"/>
<text transform="translate(147.00,343.40) scale(0.9000,1)" x="0" y="0" font-size="6.6" text-anchor="middle" fill="#1c1c1c" stroke="#1c1c1c" stroke-width="0.1">–20</text>
<path d="M161.50,331.5 L161.50,334.9" stroke="#1a1a1a" stroke-width="1"/>
<text transform="translate(161.50,343.40) scale(0.9000,1)" x="0" y="0" font-size="6.6" text-anchor="middle" fill="#1c1c1c" stroke="#1c1c1c" stroke-width="0.1">0</text>
<path d="M176.00,331.5 L176.00,334.9" stroke="#1a1a1a" stroke-width="1"/>
<text transform="translate(176.00,343.40) scale(0.9000,1)" x="0" y="0" font-size="6.6" text-anchor="middle" fill="#1c1c1c" stroke="#1c1c1c" stroke-width="0.1">20</text>
<path d="M190.50,331.5 L190.50,334.9" stroke="#1a1a1a" stroke-width="1"/>
<text transform="translate(190.50,343.40) scale(0.9000,1)" x="0" y="0" font-size="6.6" text-anchor="middle" fill="#1c1c1c" stroke="#1c1c1c" stroke-width="0.1">40</text>
<path d="M205.00,331.5 L205.00,334.9" stroke="#1a1a1a" stroke-width="1"/>
<text transform="translate(205.00,343.40) scale(0.9000,1)" x="0" y="0" font-size="6.6" text-anchor="middle" fill="#1c1c1c" stroke="#1c1c1c" stroke-width="0.1">60</text>
<text transform="translate(140.80,354.90) scale(0.7812,1)" x="0" y="0" font-size="8.4" fill="#1c1c1c" stroke="#1c1c1c" stroke-width="0.12">% change from baseline</text>
<text x="255.20" y="233.60" font-size="11.8" font-weight="bold" fill="#000">C</text>
<text transform="translate(286.80,247.50) scale(0.8979,1)" x="0" y="0" font-size="9.6" fill="#1c1c1c" stroke="#1c1c1c" stroke-width="0.15">Changes of Sleep at Night During VOC</text>
<text x="347.00" y="260.30" font-size="8.3" fill="#1c1c1c" stroke="#1c1c1c" stroke-width="0.1">Estimate p–value</text>
<text transform="translate(255.75,267.30) scale(0.9856,1)" x="0" y="0" font-size="6.6" font-weight="bold" fill="#111" stroke="#111" stroke-width="0.1">Average Activity</text>
<text x="259.25" y="274.95" font-size="6.35" fill="#1c1c1c" stroke="#1c1c1c" stroke-width="0.1">Any VOCD</text>
<text transform="translate(380.00,274.95) scale(0.9100,1)" x="0" y="0" font-size="6.8" text-anchor="end" fill="#1c1c1c" stroke="#1c1c1c" stroke-width="0.1">13.1 (2.4, 24.8)</text>
<text transform="translate(404.50,274.95) scale(0.9100,1)" x="0" y="0" font-size="6.8" text-anchor="end" fill="#1c1c1c" stroke="#1c1c1c" stroke-width="0.1">0.015</text>
<path d="M426.24,273.15 L445.28,273.15" stroke="#7c8fb6" stroke-width="1.3"/>
<rect x="433.19" y="271.00" width="4.3" height="4.3" fill="#1e3a76"/>
<text x="259.25" y="282.60" font-size="6.35" fill="#1c1c1c" stroke="#1c1c1c" stroke-width="0.1">Home VOCD</text>
<text transform="translate(380.00,282.60) scale(0.9100,1)" x="0" y="0" font-size="6.8" text-anchor="end" fill="#1c1c1c" stroke="#1c1c1c" stroke-width="0.1">7.2 (–3.8, 19.3)</text>
<text transform="translate(404.50,282.60) scale(0.9100,1)" x="0" y="0" font-size="6.8" text-anchor="end" fill="#1c1c1c" stroke="#1c1c1c" stroke-width="0.1">0.207</text>
<path d="M420.97,280.80 L440.61,280.80" stroke="#7c8fb6" stroke-width="1.3"/>
<rect x="428.17" y="278.65" width="4.3" height="4.3" fill="#1e3a76"/>
<text transform="translate(255.75,290.25) scale(0.9501,1)" x="0" y="0" font-size="6.6" font-weight="bold" fill="#111" stroke="#111" stroke-width="0.1">Total Sleep Time</text>
<text x="259.25" y="297.90" font-size="6.35" fill="#1c1c1c" stroke="#1c1c1c" stroke-width="0.1">Any VOCD</text>
<text transform="translate(380.00,297.90) scale(0.9100,1)" x="0" y="0" font-size="6.8" text-anchor="end" fill="#1c1c1c" stroke="#1c1c1c" stroke-width="0.1">–5.6 (–10.8, –0.1)</text>
<text transform="translate(404.50,297.90) scale(0.9100,1)" x="0" y="0" font-size="6.8" text-anchor="end" fill="#1c1c1c" stroke="#1c1c1c" stroke-width="0.1">0.048</text>
<path d="M415.02,296.10 L424.12,296.10" stroke="#7c8fb6" stroke-width="1.3"/>
<rect x="417.29" y="293.95" width="4.3" height="4.3" fill="#1e3a76"/>
<text x="259.25" y="305.55" font-size="6.35" fill="#1c1c1c" stroke="#1c1c1c" stroke-width="0.1">Home VOCD</text>
<text transform="translate(380.00,305.55) scale(0.9100,1)" x="0" y="0" font-size="6.8" text-anchor="end" fill="#1c1c1c" stroke="#1c1c1c" stroke-width="0.1">–6.7 (–12.3, –0.7)</text>
<text transform="translate(404.50,305.55) scale(0.9100,1)" x="0" y="0" font-size="6.8" text-anchor="end" fill="#1c1c1c" stroke="#1c1c1c" stroke-width="0.1">0.029</text>
<path d="M413.75,303.75 L423.60,303.75" stroke="#7c8fb6" stroke-width="1.3"/>
<rect x="416.36" y="301.60" width="4.3" height="4.3" fill="#1e3a76"/>
<text transform="translate(255.75,313.20) scale(0.9554,1)" x="0" y="0" font-size="6.6" font-weight="bold" fill="#111" stroke="#111" stroke-width="0.1">WTASO</text>
<text x="259.25" y="320.85" font-size="6.35" fill="#1c1c1c" stroke="#1c1c1c" stroke-width="0.1">Any VOCD</text>
<text transform="translate(380.00,320.85) scale(0.9100,1)" x="0" y="0" font-size="6.8" text-anchor="end" fill="#1c1c1c" stroke="#1c1c1c" stroke-width="0.1">6.9 (–4.1, 19.1)</text>
<text transform="translate(404.50,320.85) scale(0.9100,1)" x="0" y="0" font-size="6.8" text-anchor="end" fill="#1c1c1c" stroke="#1c1c1c" stroke-width="0.1">0.229</text>
<path d="M420.71,319.05 L440.44,319.05" stroke="#7c8fb6" stroke-width="1.3"/>
<rect x="427.92" y="316.90" width="4.3" height="4.3" fill="#1e3a76"/>
<text x="259.25" y="328.50" font-size="6.35" fill="#1c1c1c" stroke="#1c1c1c" stroke-width="0.1">Home VOCD</text>
<text transform="translate(380.00,328.50) scale(0.9100,1)" x="0" y="0" font-size="6.8" text-anchor="end" fill="#1c1c1c" stroke="#1c1c1c" stroke-width="0.1">1.0 (–10.2, 13.6)</text>
<text transform="translate(404.50,328.50) scale(0.9100,1)" x="0" y="0" font-size="6.8" text-anchor="end" fill="#1c1c1c" stroke="#1c1c1c" stroke-width="0.1">0.867</text>
<path d="M415.53,326.70 L435.76,326.70" stroke="#7c8fb6" stroke-width="1.3"/>
<rect x="422.90" y="324.55" width="4.3" height="4.3" fill="#1e3a76"/>
<text transform="translate(255.75,336.15) scale(0.9704,1)" x="0" y="0" font-size="6.6" font-weight="bold" fill="#111" stroke="#111" stroke-width="0.1">N of Awakenings</text>
<text x="259.25" y="343.80" font-size="6.35" fill="#1c1c1c" stroke="#1c1c1c" stroke-width="0.1">Any VOCD</text>
<text transform="translate(380.00,343.80) scale(0.9100,1)" x="0" y="0" font-size="6.8" text-anchor="end" fill="#1c1c1c" stroke="#1c1c1c" stroke-width="0.1">–3.4 (–11.1, 5.0)</text>
<text transform="translate(404.50,343.80) scale(0.9100,1)" x="0" y="0" font-size="6.8" text-anchor="end" fill="#1c1c1c" stroke="#1c1c1c" stroke-width="0.1">0.414</text>
<path d="M414.76,342.00 L428.45,342.00" stroke="#7c8fb6" stroke-width="1.3"/>
<rect x="419.16" y="339.85" width="4.3" height="4.3" fill="#1e3a76"/>
<text x="259.25" y="351.45" font-size="6.35" fill="#1c1c1c" stroke="#1c1c1c" stroke-width="0.1">Home VOCD</text>
<text transform="translate(380.00,351.45) scale(0.9100,1)" x="0" y="0" font-size="6.8" text-anchor="end" fill="#1c1c1c" stroke="#1c1c1c" stroke-width="0.1">–0.1 (–15.2, 1.7)</text>
<text transform="translate(404.50,351.45) scale(0.9100,1)" x="0" y="0" font-size="6.8" text-anchor="end" fill="#1c1c1c" stroke="#1c1c1c" stroke-width="0.1">0.111</text>
<path d="M411.28,349.65 L425.64,349.65" stroke="#7c8fb6" stroke-width="1.3"/>
<rect x="415.85" y="347.50" width="4.3" height="4.3" fill="#1e3a76"/>
<text transform="translate(255.75,359.10) scale(0.9706,1)" x="0" y="0" font-size="6.6" font-weight="bold" fill="#111" stroke="#111" stroke-width="0.1">Fragmentation Index</text>
<text x="259.25" y="366.75" font-size="6.35" fill="#1c1c1c" stroke="#1c1c1c" stroke-width="0.1">Any VOCD</text>
<text transform="translate(380.00,366.75) scale(0.9100,1)" x="0" y="0" font-size="6.8" text-anchor="end" fill="#1c1c1c" stroke="#1c1c1c" stroke-width="0.1">4.5 (–3.5, 13.3)</text>
<text transform="translate(404.50,366.75) scale(0.9100,1)" x="0" y="0" font-size="6.8" text-anchor="end" fill="#1c1c1c" stroke="#1c1c1c" stroke-width="0.1">0.278</text>
<path d="M421.22,364.95 L435.50,364.95" stroke="#7c8fb6" stroke-width="1.3"/>
<rect x="425.88" y="362.80" width="4.3" height="4.3" fill="#1e3a76"/>
<text x="259.25" y="374.40" font-size="6.35" fill="#1c1c1c" stroke="#1c1c1c" stroke-width="0.1">Home VOCD</text>
<text transform="translate(380.00,374.40) scale(0.9100,1)" x="0" y="0" font-size="6.8" text-anchor="end" fill="#1c1c1c" stroke="#1c1c1c" stroke-width="0.1">–0.1 (–8.4, 9.0)</text>
<text transform="translate(404.50,374.40) scale(0.9100,1)" x="0" y="0" font-size="6.8" text-anchor="end" fill="#1c1c1c" stroke="#1c1c1c" stroke-width="0.1">0.988</text>
<path d="M417.06,372.60 L431.85,372.60" stroke="#7c8fb6" stroke-width="1.3"/>
<rect x="421.97" y="370.45" width="4.3" height="4.3" fill="#1e3a76"/>
<path d="M424.2,254.2 L424.2,378.4" stroke="#1a1a1a" stroke-width="1.2"/>
<path d="M404.5,378.4 L460.8,378.4" stroke="#1a1a1a" stroke-width="1.3"/>
<path d="M407.20,378.4 L407.20,381.79999999999995" stroke="#1a1a1a" stroke-width="1"/>
<text transform="translate(407.20,389.60) scale(0.9000,1)" x="0" y="0" font-size="6.6" text-anchor="middle" fill="#1c1c1c" stroke="#1c1c1c" stroke-width="0.1">–20</text>
<path d="M424.20,378.4 L424.20,381.79999999999995" stroke="#1a1a1a" stroke-width="1"/>
<text transform="translate(424.20,389.60) scale(0.9000,1)" x="0" y="0" font-size="6.6" text-anchor="middle" fill="#1c1c1c" stroke="#1c1c1c" stroke-width="0.1">0</text>
<path d="M441.20,378.4 L441.20,381.79999999999995" stroke="#1a1a1a" stroke-width="1"/>
<text transform="translate(441.20,389.60) scale(0.9000,1)" x="0" y="0" font-size="6.6" text-anchor="middle" fill="#1c1c1c" stroke="#1c1c1c" stroke-width="0.1">20</text>
<path d="M458.20,378.4 L458.20,381.79999999999995" stroke="#1a1a1a" stroke-width="1"/>
<text transform="translate(458.20,389.60) scale(0.9000,1)" x="0" y="0" font-size="6.6" text-anchor="middle" fill="#1c1c1c" stroke="#1c1c1c" stroke-width="0.1">40</text>
<text transform="translate(396.90,401.50) scale(0.7889,1)" x="0" y="0" font-size="8.4" fill="#1c1c1c" stroke="#1c1c1c" stroke-width="0.12">% change from baseline</text>
<path d="M0.6,0.6 L519.4,0.6 L519.4,409.6 L0.6,409.6 Z" fill="none" stroke="#000" stroke-width="1.2"/>
<rect x="0" y="409.4" width="520" height="1.6" fill="#000"/>
</svg>
</body></html>
